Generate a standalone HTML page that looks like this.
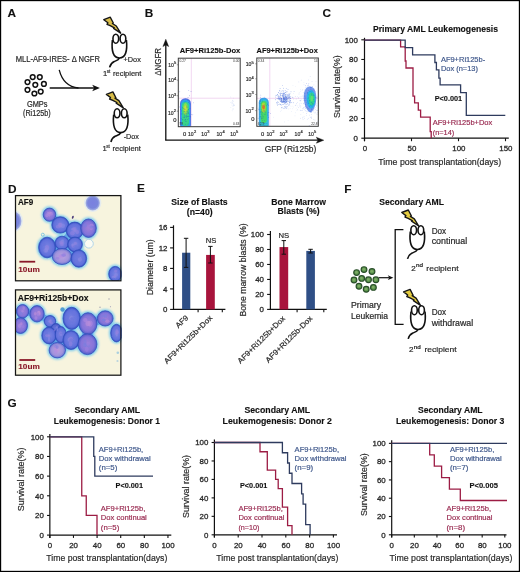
<!DOCTYPE html><html><head><meta charset="utf-8"><style>html,body{margin:0;padding:0;background:#fff}svg{display:block;filter:blur(0.3px)}text{font-family:"Liberation Sans",sans-serif}</style></head><body><svg width="520" height="572" viewBox="0 0 520 572"><rect x="0" y="0" width="520" height="572" fill="#fff"/>
<defs>
<filter id="b06" x="-20%" y="-20%" width="140%" height="140%"><feGaussianBlur stdDeviation="0.75"/></filter>
<filter id="b10" x="-30%" y="-30%" width="160%" height="160%"><feGaussianBlur stdDeviation="1.0"/></filter>
<filter id="b15" x="-30%" y="-30%" width="160%" height="160%"><feGaussianBlur stdDeviation="1.5"/></filter>
<filter id="b04"><feGaussianBlur stdDeviation="0.4"/></filter>
<clipPath id="cb1"><rect x="178.3" y="58.2" width="61.9" height="68.5"/></clipPath>
<clipPath id="cb2"><rect x="256.8" y="58" width="61.5" height="68.3"/></clipPath>
<clipPath id="cd1"><rect x="15.3" y="195" width="106.4" height="86"/></clipPath>
<clipPath id="cd2"><rect x="15.3" y="289.8" width="106.4" height="85.5"/></clipPath>
<radialGradient id="cellB" cx="50%" cy="50%" r="50%"><stop offset="0" stop-color="#7c84e2"/><stop offset="0.78" stop-color="#6070dc"/><stop offset="1" stop-color="#3450c0"/></radialGradient>
<radialGradient id="cellF" cx="50%" cy="50%" r="50%"><stop offset="0" stop-color="#7a80e0"/><stop offset="0.7" stop-color="#7a86dc"/><stop offset="1" stop-color="#a8b4e4"/></radialGradient>
<radialGradient id="cellP" cx="50%" cy="50%" r="50%"><stop offset="0" stop-color="#a080d8"/><stop offset="0.7" stop-color="#8474da"/><stop offset="1" stop-color="#4e5ec8"/></radialGradient>
<radialGradient id="cellL" cx="50%" cy="50%" r="50%"><stop offset="0" stop-color="#bca4e0"/><stop offset="0.7" stop-color="#a092dc"/><stop offset="1" stop-color="#6272d0"/></radialGradient>
<radialGradient id="cellD" cx="50%" cy="50%" r="50%"><stop offset="0" stop-color="#6a78da"/><stop offset="0.75" stop-color="#5566d0"/><stop offset="1" stop-color="#2f48b0"/></radialGradient>
</defs>
<text x="7.6" y="16.9" font-size="11.8" font-weight="bold" fill="#111" stroke="#111" stroke-width="0.12" >A</text>
<text x="15.7" y="61.8" font-size="8.2" fill="#2a2a2a" stroke="#2a2a2a" stroke-width="0.2" textLength="84.2" lengthAdjust="spacingAndGlyphs" >MLL-AF9-IRES- &#916; NGFR</text>
<circle cx="32.7" cy="77.1" r="2.35" fill="#fff" stroke="#111" stroke-width="1.5"/>
<circle cx="39.8" cy="77.1" r="2.35" fill="#fff" stroke="#111" stroke-width="1.5"/>
<circle cx="27.5" cy="82.1" r="2.35" fill="#fff" stroke="#111" stroke-width="1.5"/>
<circle cx="35.3" cy="84.8" r="2.35" fill="#fff" stroke="#111" stroke-width="1.5"/>
<circle cx="43.9" cy="83.9" r="2.35" fill="#fff" stroke="#111" stroke-width="1.5"/>
<circle cx="27.5" cy="89.8" r="2.35" fill="#fff" stroke="#111" stroke-width="1.5"/>
<circle cx="34.4" cy="93.5" r="2.35" fill="#fff" stroke="#111" stroke-width="1.5"/>
<circle cx="40.7" cy="91.6" r="2.35" fill="#fff" stroke="#111" stroke-width="1.5"/>
<text x="26.9" y="106.6" font-size="8.2" fill="#2a2a2a" stroke="#2a2a2a" stroke-width="0.2" textLength="20.6" lengthAdjust="spacingAndGlyphs" >GMPs</text>
<text x="23" y="115.7" font-size="8.2" fill="#2a2a2a" stroke="#2a2a2a" stroke-width="0.2" textLength="27.7" lengthAdjust="spacingAndGlyphs" >(Ri125b)</text>
<line x1="49.70" y1="88.00" x2="95.00" y2="88.00" stroke="#111" stroke-width="1.4"/>
<path d="M99.9,88 L92.2,84.8 L94.2,88 L92.2,91.3 Z" fill="#111"/>
<path d="M59.2,69.8 Q63.5,86.5 78.5,88" fill="none" stroke="#111" stroke-width="1.3"/>
<polygon points="103.80,19.70 110.30,17.20 113.30,23.00 112.40,23.50 116.30,26.00 120.70,33.20 113.60,28.40 114.30,27.80 110.20,25.60 107.00,24.30 107.90,22.80" fill="#d8bc48" stroke="#151515" stroke-width="1.4" stroke-linejoin="round"/>
<g transform="translate(0 0) scale(1.0)" fill="none" stroke="#111" stroke-width="1.6"><path d="M112.4,40 C111.2,51 113.3,58 119.4,58 C125.5,58 127.6,51 126.4,40"/><path d="M119.4,58 C118.6,60.1 116.5,60.6 114.3,61.5 C111.8,62.6 110.3,64.6 109.6,67.4"/><ellipse cx="115.8" cy="38.7" rx="2.85" ry="4.5" fill="#fff"/><ellipse cx="122.95" cy="38.7" rx="2.85" ry="4.5" fill="#fff"/></g>
<polygon points="106.40,94.40 112.90,91.90 115.90,97.70 115.00,98.20 118.90,100.70 123.30,107.90 116.20,103.10 116.90,102.50 112.80,100.30 109.60,99.00 110.50,97.50" fill="#d8bc48" stroke="#151515" stroke-width="1.4" stroke-linejoin="round"/>
<g transform="translate(1.3 74.6) scale(1.0)" fill="none" stroke="#111" stroke-width="1.6"><path d="M112.4,40 C111.2,51 113.3,58 119.4,58 C125.5,58 127.6,51 126.4,40"/><path d="M119.4,58 C118.6,60.1 116.5,60.6 114.3,61.5 C111.8,62.6 110.3,64.6 109.6,67.4"/><ellipse cx="115.8" cy="38.7" rx="2.85" ry="4.5" fill="#fff"/><ellipse cx="122.95" cy="38.7" rx="2.85" ry="4.5" fill="#fff"/></g>
<text x="123.5" y="62" font-size="7.8" fill="#2a2a2a" stroke="#2a2a2a" stroke-width="0.2" textLength="17.3" lengthAdjust="spacingAndGlyphs" >+Dox</text>
<text x="123.7" y="139.2" font-size="7.8" fill="#2a2a2a" stroke="#2a2a2a" stroke-width="0.2" textLength="15.3" lengthAdjust="spacingAndGlyphs" >-Dox</text>
<text x="103" y="75.5" font-size="7.6" fill="#2a2a2a" stroke="#2a2a2a" stroke-width="0.2" >1</text>
<text x="106.8" y="72.8" font-size="5.0" fill="#2a2a2a" stroke="#2a2a2a" stroke-width="0.2" textLength="3.5" lengthAdjust="spacingAndGlyphs" >st</text>
<text x="113" y="75.5" font-size="7.6" fill="#2a2a2a" stroke="#2a2a2a" stroke-width="0.2" textLength="28.3" lengthAdjust="spacingAndGlyphs" >recipient</text>
<text x="102.5" y="150.9" font-size="7.6" fill="#2a2a2a" stroke="#2a2a2a" stroke-width="0.2" >1</text>
<text x="106.3" y="148.2" font-size="5.0" fill="#2a2a2a" stroke="#2a2a2a" stroke-width="0.2" textLength="3.5" lengthAdjust="spacingAndGlyphs" >st</text>
<text x="112.5" y="150.9" font-size="7.6" fill="#2a2a2a" stroke="#2a2a2a" stroke-width="0.2" textLength="28.3" lengthAdjust="spacingAndGlyphs" >recipient</text>
<text x="144.7" y="16.9" font-size="11.8" font-weight="bold" fill="#111" stroke="#111" stroke-width="0.12" >B</text>
<line x1="165.80" y1="45.00" x2="165.80" y2="140.20" stroke="#111" stroke-width="1.3"/>
<path d="M165.8,39.2 L162.9,46.6 L165.8,45 L168.7,46.6 Z" fill="#111" stroke="#111" stroke-width="0.4"/>
<line x1="165.20" y1="140.20" x2="318.00" y2="140.20" stroke="#111" stroke-width="1.3"/>
<path d="M323.8,140.2 L316.3,137.2 L318,140.2 L316.3,143.2 Z" fill="#111" stroke="#111" stroke-width="0.4"/>
<text x="161.3" y="75.7" font-size="8.8" fill="#2a2a2a" stroke="#2a2a2a" stroke-width="0.2" textLength="27.7" lengthAdjust="spacingAndGlyphs" transform="rotate(-90 161.3 75.7)" >&#916;NGFR</text>
<text x="264.7" y="151.8" font-size="8.4" fill="#2a2a2a" stroke="#2a2a2a" stroke-width="0.2" textLength="51.6" lengthAdjust="spacingAndGlyphs" >GFP (Ri125b)</text>
<text x="179.7" y="52.8" font-size="7.2" font-weight="bold" fill="#111" stroke="#111" stroke-width="0.12" textLength="60.6" lengthAdjust="spacingAndGlyphs" >AF9+Ri125b-Dox</text>
<text x="256.5" y="52.8" font-size="7.2" font-weight="bold" fill="#111" stroke="#111" stroke-width="0.12" textLength="61.3" lengthAdjust="spacingAndGlyphs" >AF9+Ri125b+Dox</text>
<line x1="191.30" y1="58.20" x2="191.30" y2="126.70" stroke="#e8bce8" stroke-width="0.6"/>
<line x1="178.30" y1="98.20" x2="240.20" y2="98.20" stroke="#e8bce8" stroke-width="0.6"/>
<g clip-path="url(#cb1)"><g fill="#b0c4f0" fill-opacity="0.5"><circle cx="232.67" cy="106.05" r="0.4"/><circle cx="232.71" cy="102.74" r="0.4"/><circle cx="231.79" cy="103.15" r="0.4"/><circle cx="234.45" cy="105.70" r="0.4"/><circle cx="234.35" cy="105.00" r="0.4"/><circle cx="233.51" cy="104.74" r="0.4"/><circle cx="230.83" cy="107.42" r="0.4"/><circle cx="233.66" cy="106.00" r="0.4"/><circle cx="230.80" cy="97.02" r="0.4"/><circle cx="231.84" cy="102.13" r="0.4"/><circle cx="233.40" cy="103.82" r="0.4"/><circle cx="233.68" cy="101.43" r="0.4"/><circle cx="233.40" cy="105.58" r="0.4"/><circle cx="232.14" cy="110.87" r="0.4"/><circle cx="233.72" cy="108.79" r="0.4"/><circle cx="232.19" cy="101.04" r="0.4"/><circle cx="232.55" cy="103.57" r="0.4"/><circle cx="233.82" cy="104.99" r="0.4"/><circle cx="232.42" cy="100.17" r="0.4"/><circle cx="232.32" cy="108.88" r="0.4"/><circle cx="231.95" cy="104.98" r="0.4"/><circle cx="233.55" cy="98.04" r="0.4"/><circle cx="233.06" cy="109.22" r="0.4"/><circle cx="230.38" cy="102.71" r="0.4"/><circle cx="232.86" cy="100.73" r="0.4"/></g><g filter="url(#b06)"><rect x="180.00" y="98.30" width="11.00" height="32.00" rx="5.20" fill="#3a5ce0" fill-opacity="0.85"/><rect x="180.90" y="99.80" width="9.20" height="30.00" rx="4.50" fill="#2aa8ec" fill-opacity="1"/><rect x="182.00" y="102.00" width="7.00" height="24.00" rx="3.40" fill="#38d488" fill-opacity="1"/><ellipse cx="185.5" cy="109" rx="2.4" ry="6" fill="#88e050"/><ellipse cx="185.5" cy="108.6" rx="1.3" ry="3.2" fill="#c8e038"/></g><g fill="#2036c8" fill-opacity="0.6"><circle cx="186.99" cy="111.50" r="0.4"/><circle cx="181.11" cy="118.62" r="0.4"/><circle cx="187.51" cy="119.57" r="0.4"/><circle cx="189.82" cy="114.90" r="0.4"/><circle cx="185.86" cy="101.61" r="0.4"/><circle cx="187.35" cy="107.11" r="0.4"/><circle cx="184.14" cy="101.88" r="0.4"/><circle cx="182.60" cy="107.75" r="0.4"/><circle cx="189.37" cy="95.75" r="0.4"/><circle cx="181.13" cy="113.91" r="0.4"/><circle cx="189.83" cy="116.63" r="0.4"/><circle cx="179.80" cy="91.85" r="0.4"/><circle cx="186.57" cy="106.11" r="0.4"/><circle cx="182.14" cy="119.82" r="0.4"/><circle cx="188.81" cy="113.26" r="0.4"/><circle cx="186.24" cy="115.47" r="0.4"/><circle cx="190.28" cy="116.95" r="0.4"/><circle cx="187.06" cy="116.38" r="0.4"/><circle cx="180.80" cy="122.25" r="0.4"/><circle cx="188.37" cy="116.24" r="0.4"/><circle cx="179.58" cy="106.93" r="0.4"/><circle cx="188.03" cy="97.51" r="0.4"/><circle cx="184.95" cy="120.16" r="0.4"/><circle cx="181.57" cy="124.88" r="0.4"/><circle cx="187.16" cy="110.80" r="0.4"/><circle cx="186.47" cy="117.20" r="0.4"/><circle cx="185.86" cy="121.17" r="0.4"/><circle cx="183.52" cy="108.68" r="0.4"/><circle cx="188.63" cy="112.21" r="0.4"/><circle cx="182.86" cy="119.57" r="0.4"/><circle cx="189.90" cy="108.44" r="0.4"/><circle cx="181.36" cy="110.92" r="0.4"/><circle cx="185.05" cy="109.62" r="0.4"/><circle cx="189.71" cy="103.78" r="0.4"/><circle cx="189.28" cy="101.85" r="0.4"/><circle cx="183.14" cy="117.05" r="0.4"/><circle cx="188.89" cy="118.87" r="0.4"/><circle cx="186.54" cy="113.14" r="0.4"/><circle cx="185.96" cy="116.60" r="0.4"/><circle cx="184.97" cy="114.22" r="0.4"/><circle cx="187.22" cy="112.01" r="0.4"/><circle cx="187.79" cy="116.53" r="0.4"/><circle cx="191.53" cy="114.60" r="0.4"/><circle cx="184.22" cy="109.02" r="0.4"/><circle cx="185.46" cy="119.39" r="0.4"/><circle cx="184.49" cy="115.09" r="0.4"/><circle cx="191.01" cy="91.48" r="0.4"/><circle cx="182.13" cy="113.95" r="0.4"/><circle cx="186.70" cy="113.91" r="0.4"/><circle cx="184.21" cy="117.24" r="0.4"/><circle cx="186.35" cy="107.82" r="0.4"/><circle cx="192.79" cy="114.84" r="0.4"/><circle cx="183.84" cy="111.20" r="0.4"/><circle cx="184.82" cy="111.50" r="0.4"/><circle cx="177.32" cy="108.10" r="0.4"/><circle cx="188.53" cy="102.65" r="0.4"/><circle cx="185.30" cy="119.63" r="0.4"/><circle cx="188.07" cy="123.93" r="0.4"/><circle cx="180.40" cy="109.17" r="0.4"/><circle cx="184.48" cy="116.99" r="0.4"/><circle cx="188.78" cy="90.54" r="0.4"/><circle cx="188.77" cy="100.42" r="0.4"/><circle cx="187.55" cy="100.06" r="0.4"/><circle cx="186.03" cy="121.56" r="0.4"/><circle cx="185.05" cy="113.53" r="0.4"/><circle cx="187.89" cy="113.13" r="0.4"/><circle cx="185.23" cy="124.27" r="0.4"/><circle cx="188.65" cy="109.65" r="0.4"/><circle cx="193.74" cy="102.83" r="0.4"/><circle cx="188.24" cy="109.87" r="0.4"/></g></g>
<rect x="178.3" y="58.2" width="61.9" height="68.5" fill="none" stroke="#3a3a3a" stroke-width="1"/>
<line x1="269.80" y1="58.00" x2="269.80" y2="126.30" stroke="#e8bce8" stroke-width="0.6"/>
<line x1="256.80" y1="98.30" x2="318.30" y2="98.30" stroke="#e8bce8" stroke-width="0.6"/>
<g clip-path="url(#cb2)"><g fill="#3a66d8" fill-opacity="0.55"><circle cx="284.48" cy="101.18" r="0.45"/><circle cx="284.80" cy="100.93" r="0.45"/><circle cx="278.50" cy="92.76" r="0.45"/><circle cx="286.21" cy="94.84" r="0.45"/><circle cx="280.30" cy="92.91" r="0.45"/><circle cx="288.56" cy="101.34" r="0.45"/><circle cx="289.30" cy="94.94" r="0.45"/><circle cx="284.00" cy="94.17" r="0.45"/><circle cx="286.76" cy="104.54" r="0.45"/><circle cx="280.80" cy="104.43" r="0.45"/><circle cx="287.56" cy="97.82" r="0.45"/><circle cx="276.90" cy="103.85" r="0.45"/><circle cx="283.65" cy="96.21" r="0.45"/><circle cx="285.44" cy="100.06" r="0.45"/><circle cx="289.39" cy="94.62" r="0.45"/><circle cx="288.09" cy="104.15" r="0.45"/><circle cx="289.23" cy="97.81" r="0.45"/><circle cx="281.32" cy="102.37" r="0.45"/><circle cx="284.41" cy="98.97" r="0.45"/><circle cx="289.13" cy="97.50" r="0.45"/><circle cx="275.73" cy="97.03" r="0.45"/><circle cx="277.33" cy="101.61" r="0.45"/><circle cx="285.14" cy="96.18" r="0.45"/><circle cx="283.97" cy="101.66" r="0.45"/><circle cx="284.28" cy="103.54" r="0.45"/><circle cx="283.78" cy="102.45" r="0.45"/><circle cx="289.37" cy="104.62" r="0.45"/><circle cx="281.58" cy="101.84" r="0.45"/><circle cx="277.25" cy="94.38" r="0.45"/><circle cx="276.93" cy="102.56" r="0.45"/><circle cx="279.57" cy="98.45" r="0.45"/><circle cx="283.31" cy="98.39" r="0.45"/><circle cx="281.87" cy="99.39" r="0.45"/><circle cx="290.45" cy="98.67" r="0.45"/><circle cx="285.91" cy="102.30" r="0.45"/><circle cx="283.29" cy="93.71" r="0.45"/><circle cx="282.00" cy="102.58" r="0.45"/><circle cx="278.07" cy="96.23" r="0.45"/><circle cx="287.63" cy="101.51" r="0.45"/><circle cx="284.03" cy="101.56" r="0.45"/><circle cx="284.60" cy="94.02" r="0.45"/><circle cx="278.37" cy="96.07" r="0.45"/><circle cx="287.32" cy="96.35" r="0.45"/><circle cx="280.75" cy="95.57" r="0.45"/><circle cx="278.49" cy="98.05" r="0.45"/><circle cx="279.75" cy="99.88" r="0.45"/><circle cx="275.50" cy="99.75" r="0.45"/><circle cx="281.69" cy="91.12" r="0.45"/><circle cx="286.61" cy="97.45" r="0.45"/><circle cx="275.97" cy="95.17" r="0.45"/><circle cx="285.05" cy="96.76" r="0.45"/><circle cx="286.81" cy="101.34" r="0.45"/><circle cx="286.40" cy="99.74" r="0.45"/><circle cx="288.80" cy="101.01" r="0.45"/><circle cx="285.62" cy="90.58" r="0.45"/><circle cx="287.23" cy="103.48" r="0.45"/><circle cx="282.93" cy="96.72" r="0.45"/><circle cx="290.99" cy="91.82" r="0.45"/><circle cx="285.69" cy="107.71" r="0.45"/><circle cx="280.66" cy="101.12" r="0.45"/><circle cx="290.79" cy="98.04" r="0.45"/><circle cx="286.02" cy="101.93" r="0.45"/><circle cx="280.74" cy="98.16" r="0.45"/><circle cx="285.05" cy="101.64" r="0.45"/><circle cx="283.88" cy="97.76" r="0.45"/><circle cx="280.34" cy="97.14" r="0.45"/><circle cx="287.21" cy="98.89" r="0.45"/><circle cx="280.93" cy="95.30" r="0.45"/><circle cx="293.60" cy="102.83" r="0.45"/><circle cx="286.29" cy="88.65" r="0.45"/><circle cx="286.24" cy="100.33" r="0.45"/><circle cx="290.06" cy="100.13" r="0.45"/><circle cx="283.76" cy="100.49" r="0.45"/><circle cx="277.00" cy="102.43" r="0.45"/><circle cx="285.17" cy="95.83" r="0.45"/><circle cx="288.77" cy="105.38" r="0.45"/><circle cx="278.95" cy="95.97" r="0.45"/><circle cx="285.05" cy="99.20" r="0.45"/><circle cx="282.57" cy="94.80" r="0.45"/><circle cx="291.63" cy="102.44" r="0.45"/><circle cx="279.70" cy="93.39" r="0.45"/><circle cx="290.13" cy="102.26" r="0.45"/><circle cx="290.56" cy="101.58" r="0.45"/><circle cx="280.86" cy="99.49" r="0.45"/><circle cx="276.22" cy="95.66" r="0.45"/><circle cx="283.79" cy="100.49" r="0.45"/><circle cx="281.38" cy="98.03" r="0.45"/><circle cx="285.65" cy="99.93" r="0.45"/><circle cx="286.30" cy="99.29" r="0.45"/><circle cx="282.83" cy="101.50" r="0.45"/><circle cx="284.18" cy="95.36" r="0.45"/><circle cx="281.75" cy="98.50" r="0.45"/><circle cx="283.61" cy="99.10" r="0.45"/><circle cx="284.00" cy="99.17" r="0.45"/><circle cx="283.52" cy="93.72" r="0.45"/><circle cx="285.52" cy="102.50" r="0.45"/><circle cx="285.56" cy="97.78" r="0.45"/><circle cx="285.61" cy="94.83" r="0.45"/><circle cx="277.17" cy="98.73" r="0.45"/><circle cx="280.65" cy="101.31" r="0.45"/><circle cx="280.10" cy="88.51" r="0.45"/><circle cx="280.26" cy="104.50" r="0.45"/><circle cx="282.63" cy="93.30" r="0.45"/><circle cx="281.25" cy="100.48" r="0.45"/><circle cx="285.79" cy="99.17" r="0.45"/><circle cx="289.34" cy="101.18" r="0.45"/><circle cx="283.92" cy="100.77" r="0.45"/><circle cx="289.96" cy="102.19" r="0.45"/><circle cx="287.69" cy="94.39" r="0.45"/><circle cx="283.47" cy="101.27" r="0.45"/><circle cx="282.93" cy="102.56" r="0.45"/><circle cx="286.15" cy="101.95" r="0.45"/><circle cx="283.24" cy="108.18" r="0.45"/><circle cx="288.46" cy="97.68" r="0.45"/><circle cx="284.33" cy="108.36" r="0.45"/><circle cx="282.76" cy="101.82" r="0.45"/><circle cx="287.53" cy="98.53" r="0.45"/><circle cx="279.80" cy="99.21" r="0.45"/><circle cx="285.29" cy="102.79" r="0.45"/><circle cx="286.82" cy="98.59" r="0.45"/><circle cx="287.07" cy="100.55" r="0.45"/><circle cx="284.74" cy="98.71" r="0.45"/><circle cx="283.12" cy="101.11" r="0.45"/><circle cx="280.20" cy="96.11" r="0.45"/><circle cx="284.02" cy="92.94" r="0.45"/><circle cx="282.43" cy="90.87" r="0.45"/><circle cx="281.54" cy="100.66" r="0.45"/><circle cx="286.04" cy="98.29" r="0.45"/><circle cx="283.16" cy="93.12" r="0.45"/><circle cx="290.58" cy="100.46" r="0.45"/><circle cx="287.94" cy="95.15" r="0.45"/><circle cx="283.33" cy="91.59" r="0.45"/><circle cx="286.81" cy="102.05" r="0.45"/><circle cx="277.17" cy="98.30" r="0.45"/><circle cx="286.27" cy="91.80" r="0.45"/><circle cx="277.43" cy="94.45" r="0.45"/><circle cx="281.73" cy="93.17" r="0.45"/><circle cx="284.11" cy="99.45" r="0.45"/><circle cx="286.28" cy="101.17" r="0.45"/><circle cx="289.41" cy="102.92" r="0.45"/><circle cx="279.28" cy="96.58" r="0.45"/><circle cx="280.18" cy="94.41" r="0.45"/><circle cx="283.71" cy="98.52" r="0.45"/><circle cx="285.77" cy="92.47" r="0.45"/><circle cx="279.54" cy="98.41" r="0.45"/><circle cx="283.28" cy="97.32" r="0.45"/><circle cx="283.77" cy="95.61" r="0.45"/><circle cx="286.52" cy="99.85" r="0.45"/><circle cx="283.68" cy="95.95" r="0.45"/><circle cx="283.37" cy="88.16" r="0.45"/><circle cx="280.47" cy="98.64" r="0.45"/><circle cx="278.59" cy="99.26" r="0.45"/><circle cx="284.53" cy="93.27" r="0.45"/><circle cx="283.10" cy="97.31" r="0.45"/><circle cx="285.66" cy="100.83" r="0.45"/><circle cx="283.87" cy="95.27" r="0.45"/><circle cx="283.48" cy="98.25" r="0.45"/><circle cx="286.64" cy="99.62" r="0.45"/><circle cx="281.40" cy="93.35" r="0.45"/><circle cx="282.66" cy="95.69" r="0.45"/><circle cx="280.00" cy="98.06" r="0.45"/><circle cx="282.23" cy="98.90" r="0.45"/><circle cx="285.88" cy="96.93" r="0.45"/><circle cx="292.37" cy="97.28" r="0.45"/><circle cx="287.97" cy="98.96" r="0.45"/><circle cx="288.02" cy="89.47" r="0.45"/><circle cx="281.29" cy="99.44" r="0.45"/><circle cx="286.17" cy="107.38" r="0.45"/><circle cx="285.16" cy="103.36" r="0.45"/><circle cx="286.76" cy="102.10" r="0.45"/><circle cx="285.84" cy="97.91" r="0.45"/><circle cx="285.83" cy="94.40" r="0.45"/><circle cx="288.25" cy="94.63" r="0.45"/><circle cx="284.90" cy="106.56" r="0.45"/><circle cx="283.20" cy="98.57" r="0.45"/><circle cx="288.19" cy="98.60" r="0.45"/><circle cx="281.09" cy="99.48" r="0.45"/><circle cx="286.10" cy="101.20" r="0.45"/><circle cx="281.22" cy="105.16" r="0.45"/><circle cx="290.00" cy="98.57" r="0.45"/><circle cx="284.97" cy="96.87" r="0.45"/><circle cx="289.09" cy="95.82" r="0.45"/><circle cx="286.43" cy="96.68" r="0.45"/><circle cx="281.50" cy="101.23" r="0.45"/><circle cx="288.80" cy="98.46" r="0.45"/><circle cx="281.56" cy="101.58" r="0.45"/><circle cx="283.82" cy="99.68" r="0.45"/><circle cx="289.48" cy="102.80" r="0.45"/><circle cx="282.13" cy="107.18" r="0.45"/><circle cx="284.01" cy="101.49" r="0.45"/><circle cx="281.67" cy="98.33" r="0.45"/><circle cx="277.70" cy="105.29" r="0.45"/><circle cx="288.92" cy="93.88" r="0.45"/><circle cx="278.58" cy="92.34" r="0.45"/><circle cx="288.23" cy="96.75" r="0.45"/><circle cx="283.78" cy="97.31" r="0.45"/><circle cx="283.56" cy="94.36" r="0.45"/><circle cx="284.09" cy="93.04" r="0.45"/><circle cx="283.74" cy="99.67" r="0.45"/><circle cx="285.68" cy="97.62" r="0.45"/><circle cx="280.75" cy="99.11" r="0.45"/><circle cx="282.26" cy="104.45" r="0.45"/><circle cx="286.76" cy="98.06" r="0.45"/><circle cx="282.30" cy="95.83" r="0.45"/><circle cx="280.63" cy="97.16" r="0.45"/><circle cx="285.06" cy="100.46" r="0.45"/><circle cx="286.05" cy="106.47" r="0.45"/><circle cx="281.46" cy="98.55" r="0.45"/><circle cx="294.06" cy="91.41" r="0.45"/><circle cx="282.12" cy="99.14" r="0.45"/><circle cx="284.56" cy="100.05" r="0.45"/><circle cx="283.14" cy="99.89" r="0.45"/><circle cx="284.19" cy="101.43" r="0.45"/><circle cx="277.19" cy="95.14" r="0.45"/><circle cx="283.99" cy="94.58" r="0.45"/><circle cx="280.24" cy="100.89" r="0.45"/><circle cx="281.66" cy="100.91" r="0.45"/><circle cx="286.68" cy="99.66" r="0.45"/><circle cx="285.83" cy="98.10" r="0.45"/><circle cx="278.93" cy="98.39" r="0.45"/><circle cx="285.64" cy="96.49" r="0.45"/><circle cx="283.64" cy="101.35" r="0.45"/><circle cx="280.84" cy="100.93" r="0.45"/><circle cx="290.71" cy="96.39" r="0.45"/><circle cx="284.53" cy="97.93" r="0.45"/><circle cx="289.54" cy="99.70" r="0.45"/><circle cx="287.23" cy="95.88" r="0.45"/><circle cx="283.94" cy="98.46" r="0.45"/><circle cx="277.61" cy="103.98" r="0.45"/><circle cx="287.24" cy="91.85" r="0.45"/><circle cx="286.68" cy="98.00" r="0.45"/><circle cx="285.61" cy="99.89" r="0.45"/><circle cx="278.60" cy="97.69" r="0.45"/><circle cx="289.37" cy="96.32" r="0.45"/><circle cx="280.32" cy="93.33" r="0.45"/><circle cx="279.60" cy="99.77" r="0.45"/><circle cx="290.09" cy="100.13" r="0.45"/><circle cx="284.88" cy="106.99" r="0.45"/><circle cx="282.13" cy="95.94" r="0.45"/><circle cx="285.90" cy="100.58" r="0.45"/><circle cx="280.35" cy="94.05" r="0.45"/><circle cx="285.05" cy="99.44" r="0.45"/><circle cx="279.30" cy="97.73" r="0.45"/><circle cx="282.05" cy="100.25" r="0.45"/><circle cx="283.58" cy="98.17" r="0.45"/><circle cx="282.73" cy="102.50" r="0.45"/><circle cx="289.01" cy="97.11" r="0.45"/><circle cx="287.05" cy="95.62" r="0.45"/><circle cx="284.26" cy="101.35" r="0.45"/><circle cx="289.45" cy="97.05" r="0.45"/><circle cx="283.73" cy="99.25" r="0.45"/><circle cx="278.61" cy="98.56" r="0.45"/><circle cx="281.57" cy="99.91" r="0.45"/><circle cx="279.93" cy="90.99" r="0.45"/><circle cx="284.14" cy="99.49" r="0.45"/><circle cx="282.02" cy="101.88" r="0.45"/><circle cx="283.02" cy="96.20" r="0.45"/><circle cx="285.72" cy="92.54" r="0.45"/><circle cx="281.56" cy="98.42" r="0.45"/><circle cx="287.06" cy="97.88" r="0.45"/><circle cx="285.11" cy="96.01" r="0.45"/><circle cx="285.09" cy="104.82" r="0.45"/><circle cx="281.53" cy="107.49" r="0.45"/><circle cx="281.68" cy="98.57" r="0.45"/><circle cx="284.62" cy="102.39" r="0.45"/><circle cx="279.55" cy="90.52" r="0.45"/><circle cx="286.18" cy="101.52" r="0.45"/><circle cx="286.25" cy="108.50" r="0.45"/><circle cx="284.74" cy="99.46" r="0.45"/><circle cx="287.35" cy="99.90" r="0.45"/><circle cx="289.99" cy="93.79" r="0.45"/><circle cx="282.65" cy="85.41" r="0.45"/><circle cx="286.92" cy="97.08" r="0.45"/><circle cx="287.33" cy="106.69" r="0.45"/><circle cx="283.98" cy="97.53" r="0.45"/><circle cx="282.20" cy="95.32" r="0.45"/><circle cx="281.73" cy="100.93" r="0.45"/><circle cx="284.13" cy="98.75" r="0.45"/><circle cx="283.38" cy="101.97" r="0.45"/><circle cx="285.78" cy="97.96" r="0.45"/><circle cx="286.39" cy="97.92" r="0.45"/><circle cx="279.85" cy="104.03" r="0.45"/><circle cx="285.68" cy="94.86" r="0.45"/><circle cx="287.88" cy="99.81" r="0.45"/><circle cx="278.37" cy="104.62" r="0.45"/><circle cx="285.20" cy="101.89" r="0.45"/><circle cx="284.71" cy="97.93" r="0.45"/><circle cx="278.43" cy="102.19" r="0.45"/><circle cx="284.11" cy="97.41" r="0.45"/><circle cx="285.26" cy="98.80" r="0.45"/><circle cx="286.43" cy="97.09" r="0.45"/><circle cx="283.87" cy="90.37" r="0.45"/><circle cx="282.48" cy="101.07" r="0.45"/><circle cx="288.81" cy="97.12" r="0.45"/><circle cx="283.56" cy="104.52" r="0.45"/><circle cx="282.83" cy="101.29" r="0.45"/><circle cx="290.04" cy="98.65" r="0.45"/><circle cx="288.42" cy="95.80" r="0.45"/><circle cx="284.75" cy="98.21" r="0.45"/><circle cx="284.41" cy="102.79" r="0.45"/></g><g fill="#90aeea" fill-opacity="0.45"><circle cx="317.51" cy="96.68" r="0.35"/><circle cx="290.82" cy="105.98" r="0.35"/><circle cx="286.50" cy="105.98" r="0.35"/><circle cx="301.15" cy="99.78" r="0.35"/><circle cx="300.78" cy="89.61" r="0.35"/><circle cx="302.84" cy="89.64" r="0.35"/><circle cx="289.73" cy="97.55" r="0.35"/><circle cx="292.39" cy="108.87" r="0.35"/><circle cx="296.73" cy="98.82" r="0.35"/><circle cx="300.89" cy="114.65" r="0.35"/><circle cx="296.06" cy="104.93" r="0.35"/><circle cx="307.16" cy="104.14" r="0.35"/><circle cx="284.45" cy="121.92" r="0.35"/><circle cx="315.88" cy="86.12" r="0.35"/><circle cx="295.65" cy="105.34" r="0.35"/><circle cx="304.69" cy="107.35" r="0.35"/><circle cx="293.55" cy="93.57" r="0.35"/><circle cx="296.93" cy="110.27" r="0.35"/><circle cx="286.19" cy="93.78" r="0.35"/><circle cx="295.78" cy="86.50" r="0.35"/><circle cx="293.66" cy="98.51" r="0.35"/><circle cx="300.06" cy="96.39" r="0.35"/><circle cx="288.06" cy="98.85" r="0.35"/><circle cx="295.55" cy="96.68" r="0.35"/><circle cx="296.11" cy="108.00" r="0.35"/><circle cx="306.67" cy="115.64" r="0.35"/><circle cx="288.95" cy="98.64" r="0.35"/><circle cx="273.65" cy="117.19" r="0.35"/><circle cx="289.48" cy="101.73" r="0.35"/><circle cx="300.70" cy="91.13" r="0.35"/><circle cx="300.18" cy="101.79" r="0.35"/><circle cx="279.57" cy="104.34" r="0.35"/><circle cx="306.75" cy="87.06" r="0.35"/><circle cx="303.26" cy="103.67" r="0.35"/><circle cx="300.27" cy="105.53" r="0.35"/><circle cx="307.74" cy="100.21" r="0.35"/><circle cx="303.86" cy="98.72" r="0.35"/><circle cx="302.55" cy="95.49" r="0.35"/><circle cx="295.02" cy="115.85" r="0.35"/><circle cx="300.01" cy="100.73" r="0.35"/><circle cx="285.70" cy="95.68" r="0.35"/><circle cx="297.74" cy="109.52" r="0.35"/><circle cx="299.83" cy="106.19" r="0.35"/><circle cx="295.62" cy="112.82" r="0.35"/><circle cx="292.48" cy="97.60" r="0.35"/><circle cx="303.99" cy="102.51" r="0.35"/><circle cx="293.49" cy="97.39" r="0.35"/><circle cx="293.69" cy="106.99" r="0.35"/><circle cx="299.18" cy="92.32" r="0.35"/><circle cx="299.84" cy="103.43" r="0.35"/><circle cx="287.00" cy="108.18" r="0.35"/><circle cx="293.48" cy="99.32" r="0.35"/><circle cx="303.16" cy="112.57" r="0.35"/><circle cx="289.80" cy="105.51" r="0.35"/><circle cx="288.12" cy="120.51" r="0.35"/><circle cx="291.56" cy="111.56" r="0.35"/><circle cx="290.17" cy="108.49" r="0.35"/><circle cx="315.97" cy="81.67" r="0.35"/><circle cx="292.09" cy="106.00" r="0.35"/><circle cx="295.16" cy="96.65" r="0.35"/><circle cx="315.37" cy="102.64" r="0.35"/><circle cx="281.20" cy="108.83" r="0.35"/><circle cx="280.51" cy="111.21" r="0.35"/><circle cx="290.80" cy="103.16" r="0.35"/><circle cx="307.35" cy="102.94" r="0.35"/><circle cx="283.48" cy="88.43" r="0.35"/><circle cx="306.64" cy="107.92" r="0.35"/><circle cx="288.66" cy="108.88" r="0.35"/><circle cx="300.47" cy="107.18" r="0.35"/><circle cx="275.67" cy="99.58" r="0.35"/><circle cx="304.10" cy="107.87" r="0.35"/><circle cx="303.93" cy="82.34" r="0.35"/><circle cx="297.52" cy="105.94" r="0.35"/><circle cx="318.97" cy="94.37" r="0.35"/><circle cx="293.04" cy="102.29" r="0.35"/><circle cx="303.97" cy="98.45" r="0.35"/><circle cx="306.33" cy="95.70" r="0.35"/><circle cx="298.40" cy="97.78" r="0.35"/><circle cx="297.42" cy="96.47" r="0.35"/><circle cx="281.62" cy="110.74" r="0.35"/><circle cx="298.73" cy="97.53" r="0.35"/><circle cx="297.81" cy="109.92" r="0.35"/><circle cx="287.20" cy="101.12" r="0.35"/><circle cx="300.85" cy="106.21" r="0.35"/><circle cx="292.98" cy="85.14" r="0.35"/><circle cx="307.19" cy="104.63" r="0.35"/><circle cx="296.12" cy="99.77" r="0.35"/><circle cx="298.37" cy="98.60" r="0.35"/><circle cx="286.78" cy="96.08" r="0.35"/><circle cx="290.63" cy="97.10" r="0.35"/></g><g fill="#6a8ae8" fill-opacity="0.45"><circle cx="302.63" cy="110.36" r="0.4"/><circle cx="301.80" cy="110.60" r="0.4"/><circle cx="303.42" cy="107.52" r="0.4"/><circle cx="316.56" cy="106.03" r="0.4"/><circle cx="304.98" cy="104.48" r="0.4"/><circle cx="309.81" cy="86.66" r="0.4"/><circle cx="305.66" cy="105.63" r="0.4"/><circle cx="306.42" cy="104.80" r="0.4"/><circle cx="313.04" cy="111.67" r="0.4"/><circle cx="313.98" cy="109.89" r="0.4"/><circle cx="307.42" cy="103.82" r="0.4"/><circle cx="307.51" cy="100.87" r="0.4"/><circle cx="308.01" cy="86.75" r="0.4"/><circle cx="307.17" cy="103.76" r="0.4"/><circle cx="303.64" cy="103.76" r="0.4"/><circle cx="311.84" cy="102.36" r="0.4"/><circle cx="320.42" cy="77.94" r="0.4"/><circle cx="307.87" cy="85.75" r="0.4"/><circle cx="314.39" cy="130.54" r="0.4"/><circle cx="295.24" cy="105.28" r="0.4"/><circle cx="311.85" cy="100.98" r="0.4"/><circle cx="312.03" cy="81.57" r="0.4"/><circle cx="313.69" cy="107.72" r="0.4"/><circle cx="309.13" cy="98.12" r="0.4"/><circle cx="312.51" cy="99.15" r="0.4"/><circle cx="310.23" cy="98.90" r="0.4"/><circle cx="296.64" cy="103.69" r="0.4"/><circle cx="310.11" cy="111.54" r="0.4"/><circle cx="304.18" cy="103.67" r="0.4"/><circle cx="312.39" cy="105.45" r="0.4"/><circle cx="315.83" cy="123.92" r="0.4"/><circle cx="304.00" cy="84.79" r="0.4"/><circle cx="313.71" cy="119.29" r="0.4"/><circle cx="314.07" cy="112.14" r="0.4"/><circle cx="305.60" cy="96.86" r="0.4"/><circle cx="313.89" cy="94.88" r="0.4"/><circle cx="299.03" cy="94.02" r="0.4"/><circle cx="322.71" cy="123.23" r="0.4"/><circle cx="305.22" cy="96.71" r="0.4"/><circle cx="310.27" cy="96.51" r="0.4"/><circle cx="316.21" cy="103.22" r="0.4"/><circle cx="303.03" cy="117.09" r="0.4"/><circle cx="305.79" cy="106.21" r="0.4"/><circle cx="308.93" cy="100.86" r="0.4"/><circle cx="310.79" cy="97.08" r="0.4"/><circle cx="298.86" cy="81.92" r="0.4"/><circle cx="302.03" cy="96.42" r="0.4"/><circle cx="308.87" cy="104.55" r="0.4"/><circle cx="312.06" cy="105.20" r="0.4"/><circle cx="304.64" cy="96.91" r="0.4"/><circle cx="297.35" cy="102.31" r="0.4"/><circle cx="311.67" cy="109.30" r="0.4"/><circle cx="308.33" cy="102.26" r="0.4"/><circle cx="314.15" cy="104.15" r="0.4"/><circle cx="313.06" cy="109.83" r="0.4"/><circle cx="310.17" cy="117.06" r="0.4"/><circle cx="305.85" cy="100.41" r="0.4"/><circle cx="304.56" cy="96.03" r="0.4"/><circle cx="317.56" cy="121.59" r="0.4"/><circle cx="309.13" cy="109.68" r="0.4"/><circle cx="315.46" cy="112.07" r="0.4"/><circle cx="315.63" cy="91.37" r="0.4"/><circle cx="305.48" cy="108.53" r="0.4"/><circle cx="316.89" cy="105.04" r="0.4"/><circle cx="304.28" cy="100.45" r="0.4"/><circle cx="305.37" cy="95.42" r="0.4"/><circle cx="317.26" cy="97.74" r="0.4"/><circle cx="309.11" cy="125.62" r="0.4"/><circle cx="315.52" cy="107.36" r="0.4"/><circle cx="305.63" cy="108.10" r="0.4"/><circle cx="317.92" cy="110.23" r="0.4"/><circle cx="315.94" cy="104.98" r="0.4"/><circle cx="311.84" cy="101.99" r="0.4"/><circle cx="311.35" cy="117.00" r="0.4"/><circle cx="301.13" cy="103.37" r="0.4"/><circle cx="310.32" cy="98.29" r="0.4"/><circle cx="307.31" cy="111.87" r="0.4"/><circle cx="320.01" cy="110.29" r="0.4"/><circle cx="310.79" cy="88.49" r="0.4"/><circle cx="319.60" cy="104.77" r="0.4"/><circle cx="308.81" cy="92.82" r="0.4"/><circle cx="308.69" cy="93.04" r="0.4"/><circle cx="309.39" cy="108.66" r="0.4"/><circle cx="309.17" cy="106.80" r="0.4"/><circle cx="304.31" cy="118.30" r="0.4"/><circle cx="305.41" cy="85.82" r="0.4"/><circle cx="307.97" cy="96.36" r="0.4"/><circle cx="303.45" cy="100.45" r="0.4"/><circle cx="310.60" cy="92.18" r="0.4"/><circle cx="308.24" cy="118.27" r="0.4"/><circle cx="312.76" cy="102.48" r="0.4"/><circle cx="309.70" cy="102.80" r="0.4"/><circle cx="308.74" cy="111.32" r="0.4"/><circle cx="308.49" cy="79.96" r="0.4"/><circle cx="308.88" cy="95.11" r="0.4"/><circle cx="312.58" cy="97.90" r="0.4"/><circle cx="309.82" cy="125.77" r="0.4"/><circle cx="303.24" cy="92.75" r="0.4"/><circle cx="301.24" cy="80.05" r="0.4"/><circle cx="298.67" cy="107.65" r="0.4"/><circle cx="305.49" cy="85.32" r="0.4"/><circle cx="300.85" cy="110.17" r="0.4"/><circle cx="304.74" cy="100.33" r="0.4"/><circle cx="310.82" cy="117.56" r="0.4"/><circle cx="319.68" cy="114.32" r="0.4"/><circle cx="309.79" cy="105.84" r="0.4"/><circle cx="318.91" cy="118.29" r="0.4"/><circle cx="307.29" cy="108.58" r="0.4"/><circle cx="310.58" cy="104.52" r="0.4"/><circle cx="306.25" cy="90.74" r="0.4"/><circle cx="306.06" cy="88.56" r="0.4"/><circle cx="315.73" cy="109.37" r="0.4"/><circle cx="302.37" cy="117.96" r="0.4"/><circle cx="313.90" cy="84.91" r="0.4"/><circle cx="319.13" cy="112.10" r="0.4"/><circle cx="320.35" cy="91.69" r="0.4"/><circle cx="311.92" cy="108.23" r="0.4"/><circle cx="310.11" cy="105.71" r="0.4"/><circle cx="314.79" cy="89.06" r="0.4"/><circle cx="302.17" cy="90.06" r="0.4"/><circle cx="305.93" cy="97.95" r="0.4"/><circle cx="311.02" cy="106.66" r="0.4"/><circle cx="309.17" cy="97.23" r="0.4"/><circle cx="306.57" cy="113.52" r="0.4"/><circle cx="313.20" cy="105.01" r="0.4"/><circle cx="307.23" cy="119.53" r="0.4"/><circle cx="305.73" cy="110.49" r="0.4"/><circle cx="315.34" cy="101.35" r="0.4"/><circle cx="313.54" cy="92.84" r="0.4"/><circle cx="314.57" cy="106.00" r="0.4"/><circle cx="300.27" cy="110.70" r="0.4"/><circle cx="304.09" cy="116.82" r="0.4"/><circle cx="305.27" cy="102.35" r="0.4"/><circle cx="310.56" cy="100.68" r="0.4"/><circle cx="310.43" cy="98.47" r="0.4"/><circle cx="312.70" cy="104.05" r="0.4"/><circle cx="310.16" cy="76.47" r="0.4"/><circle cx="315.39" cy="104.32" r="0.4"/><circle cx="299.20" cy="104.95" r="0.4"/><circle cx="311.57" cy="114.71" r="0.4"/><circle cx="303.05" cy="119.47" r="0.4"/><circle cx="308.12" cy="127.95" r="0.4"/><circle cx="308.20" cy="110.80" r="0.4"/><circle cx="306.98" cy="92.84" r="0.4"/><circle cx="315.03" cy="113.06" r="0.4"/><circle cx="317.46" cy="112.57" r="0.4"/><circle cx="305.85" cy="87.38" r="0.4"/><circle cx="305.42" cy="97.25" r="0.4"/><circle cx="304.52" cy="109.82" r="0.4"/><circle cx="310.80" cy="101.30" r="0.4"/><circle cx="309.95" cy="102.54" r="0.4"/><circle cx="310.17" cy="111.52" r="0.4"/><circle cx="314.28" cy="97.14" r="0.4"/><circle cx="300.71" cy="118.27" r="0.4"/><circle cx="309.63" cy="115.06" r="0.4"/><circle cx="299.96" cy="100.70" r="0.4"/><circle cx="309.15" cy="89.59" r="0.4"/><circle cx="306.16" cy="111.24" r="0.4"/><circle cx="314.93" cy="119.94" r="0.4"/><circle cx="304.25" cy="89.99" r="0.4"/></g><g filter="url(#b06)"><path d="M310,86.5 C314.5,86.5 316.3,92 316.3,98 C316.3,105 313,112 310.5,112.5 C307.5,112.5 303.7,104 303.7,97 C303.7,91 306,86.5 310,86.5 Z" fill="#4a78e6" fill-opacity="0.75"/><ellipse cx="311" cy="99.2" rx="4.4" ry="9.3" fill="#26b8ea"/><ellipse cx="311.6" cy="99" rx="3.0" ry="6.6" fill="#30d88a"/><ellipse cx="311.8" cy="98.6" rx="1.3" ry="3" fill="#60e070"/></g><g fill="#2a48d0" fill-opacity="0.55"><circle cx="311.77" cy="106.05" r="0.4"/><circle cx="310.66" cy="89.24" r="0.4"/><circle cx="312.66" cy="104.94" r="0.4"/><circle cx="311.88" cy="95.35" r="0.4"/><circle cx="311.03" cy="104.93" r="0.4"/><circle cx="308.10" cy="85.17" r="0.4"/><circle cx="311.12" cy="102.61" r="0.4"/><circle cx="310.05" cy="105.67" r="0.4"/><circle cx="308.01" cy="98.38" r="0.4"/><circle cx="308.96" cy="103.29" r="0.4"/><circle cx="315.43" cy="97.12" r="0.4"/><circle cx="316.99" cy="110.47" r="0.4"/><circle cx="312.69" cy="103.40" r="0.4"/><circle cx="316.02" cy="97.65" r="0.4"/><circle cx="309.62" cy="91.03" r="0.4"/><circle cx="311.61" cy="109.09" r="0.4"/><circle cx="311.81" cy="102.17" r="0.4"/><circle cx="309.32" cy="100.27" r="0.4"/><circle cx="305.15" cy="106.87" r="0.4"/><circle cx="308.61" cy="90.72" r="0.4"/><circle cx="307.45" cy="92.82" r="0.4"/><circle cx="312.91" cy="106.94" r="0.4"/><circle cx="305.38" cy="105.95" r="0.4"/><circle cx="313.02" cy="94.65" r="0.4"/><circle cx="304.95" cy="93.41" r="0.4"/><circle cx="307.85" cy="101.57" r="0.4"/><circle cx="308.78" cy="83.79" r="0.4"/><circle cx="310.79" cy="87.49" r="0.4"/><circle cx="313.08" cy="89.95" r="0.4"/><circle cx="307.64" cy="92.59" r="0.4"/><circle cx="308.16" cy="108.74" r="0.4"/><circle cx="312.90" cy="103.51" r="0.4"/><circle cx="311.09" cy="87.39" r="0.4"/><circle cx="308.23" cy="94.86" r="0.4"/><circle cx="306.68" cy="102.82" r="0.4"/><circle cx="307.48" cy="93.68" r="0.4"/><circle cx="306.45" cy="83.57" r="0.4"/><circle cx="312.02" cy="108.98" r="0.4"/><circle cx="310.59" cy="91.68" r="0.4"/><circle cx="300.80" cy="100.30" r="0.4"/><circle cx="314.14" cy="101.23" r="0.4"/><circle cx="313.15" cy="110.09" r="0.4"/><circle cx="313.83" cy="95.69" r="0.4"/><circle cx="313.58" cy="104.82" r="0.4"/><circle cx="304.77" cy="95.96" r="0.4"/><circle cx="305.16" cy="98.18" r="0.4"/><circle cx="311.97" cy="90.99" r="0.4"/><circle cx="303.01" cy="108.74" r="0.4"/><circle cx="311.28" cy="110.03" r="0.4"/><circle cx="305.50" cy="106.95" r="0.4"/><circle cx="317.05" cy="114.05" r="0.4"/><circle cx="309.29" cy="101.02" r="0.4"/><circle cx="309.48" cy="106.49" r="0.4"/><circle cx="313.53" cy="99.65" r="0.4"/><circle cx="305.38" cy="104.56" r="0.4"/><circle cx="308.40" cy="103.72" r="0.4"/><circle cx="310.89" cy="111.18" r="0.4"/><circle cx="313.87" cy="95.62" r="0.4"/><circle cx="311.19" cy="112.23" r="0.4"/><circle cx="308.17" cy="102.25" r="0.4"/><circle cx="314.05" cy="108.43" r="0.4"/><circle cx="311.76" cy="89.10" r="0.4"/><circle cx="305.71" cy="100.86" r="0.4"/><circle cx="311.32" cy="118.11" r="0.4"/><circle cx="307.07" cy="107.53" r="0.4"/><circle cx="312.62" cy="86.46" r="0.4"/><circle cx="307.22" cy="100.25" r="0.4"/><circle cx="308.32" cy="97.84" r="0.4"/><circle cx="311.60" cy="92.93" r="0.4"/><circle cx="311.59" cy="94.23" r="0.4"/></g><g filter="url(#b06)"><rect x="258.80" y="97.70" width="10.00" height="32.00" rx="4.80" fill="#3aa0e8" fill-opacity="1"/><rect x="259.80" y="99.50" width="8.00" height="30.00" rx="3.80" fill="#30c4d8" fill-opacity="1"/><rect x="260.80" y="101.00" width="6.00" height="22.00" rx="3.00" fill="#44d868" fill-opacity="1"/><ellipse cx="263.6" cy="107.5" rx="2.2" ry="5" fill="#a8d838"/><ellipse cx="263.6" cy="107.3" rx="1.2" ry="2.2" fill="#e07828"/></g><g fill="#2036c8" fill-opacity="0.55"><circle cx="261.97" cy="116.29" r="0.4"/><circle cx="261.89" cy="114.30" r="0.4"/><circle cx="267.98" cy="112.22" r="0.4"/><circle cx="263.09" cy="117.88" r="0.4"/><circle cx="262.48" cy="120.66" r="0.4"/><circle cx="259.91" cy="116.95" r="0.4"/><circle cx="262.07" cy="105.61" r="0.4"/><circle cx="268.46" cy="105.20" r="0.4"/><circle cx="268.42" cy="117.27" r="0.4"/><circle cx="267.57" cy="104.19" r="0.4"/><circle cx="266.86" cy="123.65" r="0.4"/><circle cx="263.17" cy="110.97" r="0.4"/><circle cx="270.38" cy="113.42" r="0.4"/><circle cx="262.32" cy="106.96" r="0.4"/><circle cx="264.75" cy="114.64" r="0.4"/><circle cx="264.00" cy="125.77" r="0.4"/><circle cx="262.58" cy="115.79" r="0.4"/><circle cx="267.59" cy="103.97" r="0.4"/><circle cx="266.41" cy="126.66" r="0.4"/><circle cx="259.71" cy="103.22" r="0.4"/><circle cx="260.59" cy="97.23" r="0.4"/><circle cx="264.77" cy="97.15" r="0.4"/><circle cx="264.90" cy="123.63" r="0.4"/><circle cx="258.98" cy="109.47" r="0.4"/><circle cx="258.13" cy="118.23" r="0.4"/><circle cx="261.44" cy="109.87" r="0.4"/><circle cx="263.65" cy="116.36" r="0.4"/><circle cx="262.53" cy="112.12" r="0.4"/><circle cx="261.97" cy="112.92" r="0.4"/><circle cx="260.22" cy="112.51" r="0.4"/><circle cx="258.09" cy="108.08" r="0.4"/><circle cx="268.86" cy="112.64" r="0.4"/><circle cx="259.97" cy="114.06" r="0.4"/><circle cx="260.78" cy="98.79" r="0.4"/><circle cx="261.44" cy="117.89" r="0.4"/><circle cx="264.57" cy="111.22" r="0.4"/><circle cx="260.91" cy="103.37" r="0.4"/><circle cx="267.28" cy="113.96" r="0.4"/><circle cx="260.84" cy="95.11" r="0.4"/><circle cx="259.66" cy="131.80" r="0.4"/><circle cx="260.28" cy="111.39" r="0.4"/><circle cx="264.09" cy="110.74" r="0.4"/><circle cx="262.72" cy="101.01" r="0.4"/><circle cx="260.56" cy="125.51" r="0.4"/><circle cx="261.38" cy="118.76" r="0.4"/><circle cx="258.76" cy="109.81" r="0.4"/><circle cx="264.23" cy="120.29" r="0.4"/><circle cx="260.36" cy="116.76" r="0.4"/><circle cx="264.58" cy="106.10" r="0.4"/><circle cx="264.84" cy="104.82" r="0.4"/><circle cx="261.27" cy="111.85" r="0.4"/><circle cx="255.90" cy="111.12" r="0.4"/><circle cx="260.70" cy="100.30" r="0.4"/><circle cx="262.31" cy="118.10" r="0.4"/><circle cx="262.37" cy="122.13" r="0.4"/><circle cx="260.25" cy="101.50" r="0.4"/><circle cx="267.84" cy="115.19" r="0.4"/><circle cx="266.15" cy="105.39" r="0.4"/><circle cx="265.75" cy="114.08" r="0.4"/><circle cx="265.32" cy="112.20" r="0.4"/></g></g>
<rect x="256.8" y="58" width="61.5" height="68.3" fill="none" stroke="#3a3a3a" stroke-width="1"/>
<text x="179.4" y="61.8" font-size="3.3" fill="#333" >0.27</text>
<text x="239.4" y="61.8" font-size="3.3" fill="#333" text-anchor="end" >0.00</text>
<text x="179.4" y="125" font-size="3.3" fill="#333" >99</text>
<text x="239.4" y="125" font-size="3.3" fill="#333" text-anchor="end" >0.63</text>
<text x="257.8" y="61.6" font-size="3.3" fill="#333" >0.34</text>
<text x="317.6" y="61.6" font-size="3.3" fill="#333" text-anchor="end" >14</text>
<text x="257.8" y="125" font-size="3.3" fill="#333" >62.9</text>
<text x="317.6" y="125" font-size="3.3" fill="#333" text-anchor="end" >22.8</text>
<text x="168.2" y="66.9" font-size="6.0" fill="#2a2a2a" stroke="#2a2a2a" stroke-width="0.2" textLength="5.7" lengthAdjust="spacingAndGlyphs" >10</text>
<text x="174.1" y="64.4" font-size="4.0" fill="#2a2a2a" stroke="#2a2a2a" stroke-width="0.2" >5</text>
<text x="168.2" y="82.3" font-size="6.0" fill="#2a2a2a" stroke="#2a2a2a" stroke-width="0.2" textLength="5.7" lengthAdjust="spacingAndGlyphs" >10</text>
<text x="174.1" y="79.8" font-size="4.0" fill="#2a2a2a" stroke="#2a2a2a" stroke-width="0.2" >4</text>
<text x="168.2" y="98" font-size="6.0" fill="#2a2a2a" stroke="#2a2a2a" stroke-width="0.2" textLength="5.7" lengthAdjust="spacingAndGlyphs" >10</text>
<text x="174.1" y="95.5" font-size="4.0" fill="#2a2a2a" stroke="#2a2a2a" stroke-width="0.2" >3</text>
<text x="167.9" y="114.6" font-size="6.0" fill="#2a2a2a" stroke="#2a2a2a" stroke-width="0.2" textLength="5.7" lengthAdjust="spacingAndGlyphs" >10</text>
<text x="173.8" y="112.1" font-size="4.0" fill="#2a2a2a" stroke="#2a2a2a" stroke-width="0.2" >2</text>
<text x="173.3" y="121.8" font-size="5.8" fill="#2a2a2a" stroke="#2a2a2a" stroke-width="0.2" >0</text>
<text x="245.7" y="66" font-size="6.0" fill="#2a2a2a" stroke="#2a2a2a" stroke-width="0.2" textLength="5.7" lengthAdjust="spacingAndGlyphs" >10</text>
<text x="251.6" y="63.5" font-size="4.0" fill="#2a2a2a" stroke="#2a2a2a" stroke-width="0.2" >5</text>
<text x="245.7" y="81" font-size="6.0" fill="#2a2a2a" stroke="#2a2a2a" stroke-width="0.2" textLength="5.7" lengthAdjust="spacingAndGlyphs" >10</text>
<text x="251.6" y="78.5" font-size="4.0" fill="#2a2a2a" stroke="#2a2a2a" stroke-width="0.2" >4</text>
<text x="245.7" y="96.7" font-size="6.0" fill="#2a2a2a" stroke="#2a2a2a" stroke-width="0.2" textLength="5.7" lengthAdjust="spacingAndGlyphs" >10</text>
<text x="251.6" y="94.2" font-size="4.0" fill="#2a2a2a" stroke="#2a2a2a" stroke-width="0.2" >3</text>
<text x="245.5" y="112.8" font-size="6.0" fill="#2a2a2a" stroke="#2a2a2a" stroke-width="0.2" textLength="5.7" lengthAdjust="spacingAndGlyphs" >10</text>
<text x="251.4" y="110.3" font-size="4.0" fill="#2a2a2a" stroke="#2a2a2a" stroke-width="0.2" >2</text>
<text x="251.3" y="121.2" font-size="5.8" fill="#2a2a2a" stroke="#2a2a2a" stroke-width="0.2" >0</text>
<text x="188" y="135.7" font-size="6.0" fill="#2a2a2a" stroke="#2a2a2a" stroke-width="0.2" textLength="5.7" lengthAdjust="spacingAndGlyphs" >10</text>
<text x="193.9" y="133.2" font-size="4.0" fill="#2a2a2a" stroke="#2a2a2a" stroke-width="0.2" >2</text>
<text x="201.3" y="135.7" font-size="6.0" fill="#2a2a2a" stroke="#2a2a2a" stroke-width="0.2" textLength="5.7" lengthAdjust="spacingAndGlyphs" >10</text>
<text x="207.2" y="133.2" font-size="4.0" fill="#2a2a2a" stroke="#2a2a2a" stroke-width="0.2" >3</text>
<text x="216.5" y="135.7" font-size="6.0" fill="#2a2a2a" stroke="#2a2a2a" stroke-width="0.2" textLength="5.7" lengthAdjust="spacingAndGlyphs" >10</text>
<text x="222.4" y="133.2" font-size="4.0" fill="#2a2a2a" stroke="#2a2a2a" stroke-width="0.2" >4</text>
<text x="230.2" y="135.7" font-size="6.0" fill="#2a2a2a" stroke="#2a2a2a" stroke-width="0.2" textLength="5.7" lengthAdjust="spacingAndGlyphs" >10</text>
<text x="236.1" y="133.2" font-size="4.0" fill="#2a2a2a" stroke="#2a2a2a" stroke-width="0.2" >5</text>
<text x="182.9" y="135.7" font-size="5.8" fill="#2a2a2a" stroke="#2a2a2a" stroke-width="0.2" >0</text>
<text x="266.4" y="135.5" font-size="6.0" fill="#2a2a2a" stroke="#2a2a2a" stroke-width="0.2" textLength="5.7" lengthAdjust="spacingAndGlyphs" >10</text>
<text x="272.3" y="133.0" font-size="4.0" fill="#2a2a2a" stroke="#2a2a2a" stroke-width="0.2" >2</text>
<text x="279.4" y="135.5" font-size="6.0" fill="#2a2a2a" stroke="#2a2a2a" stroke-width="0.2" textLength="5.7" lengthAdjust="spacingAndGlyphs" >10</text>
<text x="285.3" y="133.0" font-size="4.0" fill="#2a2a2a" stroke="#2a2a2a" stroke-width="0.2" >3</text>
<text x="294.6" y="135.5" font-size="6.0" fill="#2a2a2a" stroke="#2a2a2a" stroke-width="0.2" textLength="5.7" lengthAdjust="spacingAndGlyphs" >10</text>
<text x="300.5" y="133.0" font-size="4.0" fill="#2a2a2a" stroke="#2a2a2a" stroke-width="0.2" >4</text>
<text x="308.2" y="135.5" font-size="6.0" fill="#2a2a2a" stroke="#2a2a2a" stroke-width="0.2" textLength="5.7" lengthAdjust="spacingAndGlyphs" >10</text>
<text x="314.1" y="133.0" font-size="4.0" fill="#2a2a2a" stroke="#2a2a2a" stroke-width="0.2" >5</text>
<text x="260.9" y="135.5" font-size="5.8" fill="#2a2a2a" stroke="#2a2a2a" stroke-width="0.2" >0</text>
<line x1="176.80" y1="64.80" x2="178.30" y2="64.80" stroke="#555" stroke-width="0.6"/>
<line x1="176.80" y1="80.20" x2="178.30" y2="80.20" stroke="#555" stroke-width="0.6"/>
<line x1="176.80" y1="95.70" x2="178.30" y2="95.70" stroke="#555" stroke-width="0.6"/>
<line x1="176.80" y1="111.20" x2="178.30" y2="111.20" stroke="#555" stroke-width="0.6"/>
<line x1="255.30" y1="63.80" x2="256.80" y2="63.80" stroke="#555" stroke-width="0.6"/>
<line x1="255.30" y1="78.80" x2="256.80" y2="78.80" stroke="#555" stroke-width="0.6"/>
<line x1="255.30" y1="94.50" x2="256.80" y2="94.50" stroke="#555" stroke-width="0.6"/>
<line x1="255.30" y1="110.60" x2="256.80" y2="110.60" stroke="#555" stroke-width="0.6"/>
<text x="322.5" y="17.4" font-size="11.8" font-weight="bold" fill="#111" stroke="#111" stroke-width="0.12" >C</text>
<text x="372.9" y="32.1" font-size="8.8" font-weight="bold" fill="#111" stroke="#111" stroke-width="0.12" textLength="125.1" lengthAdjust="spacingAndGlyphs" >Primary AML Leukemogenesis</text>
<line x1="364.50" y1="37.80" x2="364.50" y2="141.20" stroke="#111" stroke-width="1.2"/>
<line x1="364.50" y1="138.20" x2="508.80" y2="138.20" stroke="#111" stroke-width="1.2"/>
<line x1="361.30" y1="138.20" x2="364.50" y2="138.20" stroke="#111" stroke-width="1.1"/>
<text x="357.8" y="141.1" font-size="7.9" fill="#2a2a2a" stroke="#2a2a2a" stroke-width="0.3" text-anchor="end" >0</text>
<line x1="361.30" y1="118.52" x2="364.50" y2="118.52" stroke="#111" stroke-width="1.1"/>
<text x="357.8" y="121.42" font-size="7.9" fill="#2a2a2a" stroke="#2a2a2a" stroke-width="0.3" text-anchor="end" >20</text>
<line x1="361.30" y1="98.84" x2="364.50" y2="98.84" stroke="#111" stroke-width="1.1"/>
<text x="357.8" y="101.74" font-size="7.9" fill="#2a2a2a" stroke="#2a2a2a" stroke-width="0.3" text-anchor="end" >40</text>
<line x1="361.30" y1="79.16" x2="364.50" y2="79.16" stroke="#111" stroke-width="1.1"/>
<text x="357.8" y="82.06" font-size="7.9" fill="#2a2a2a" stroke="#2a2a2a" stroke-width="0.3" text-anchor="end" >60</text>
<line x1="361.30" y1="59.48" x2="364.50" y2="59.48" stroke="#111" stroke-width="1.1"/>
<text x="357.8" y="62.38" font-size="7.9" fill="#2a2a2a" stroke="#2a2a2a" stroke-width="0.3" text-anchor="end" >80</text>
<line x1="361.30" y1="39.80" x2="364.50" y2="39.80" stroke="#111" stroke-width="1.1"/>
<text x="357.8" y="42.7" font-size="7.9" fill="#2a2a2a" stroke="#2a2a2a" stroke-width="0.3" text-anchor="end" >100</text>
<line x1="364.50" y1="138.20" x2="364.50" y2="141.20" stroke="#111" stroke-width="1.1"/>
<text x="364.9" y="151.1" font-size="7.9" fill="#2a2a2a" stroke="#2a2a2a" stroke-width="0.3" text-anchor="middle" >0</text>
<line x1="411.50" y1="138.20" x2="411.50" y2="141.20" stroke="#111" stroke-width="1.1"/>
<text x="411.9" y="151.1" font-size="7.9" fill="#2a2a2a" stroke="#2a2a2a" stroke-width="0.3" text-anchor="middle" >50</text>
<line x1="458.50" y1="138.20" x2="458.50" y2="141.20" stroke="#111" stroke-width="1.1"/>
<text x="458.9" y="151.1" font-size="7.9" fill="#2a2a2a" stroke="#2a2a2a" stroke-width="0.3" text-anchor="middle" >100</text>
<line x1="505.50" y1="138.20" x2="505.50" y2="141.20" stroke="#111" stroke-width="1.1"/>
<text x="505.9" y="151.1" font-size="7.9" fill="#2a2a2a" stroke="#2a2a2a" stroke-width="0.3" text-anchor="middle" >150</text>
<text x="339.6" y="118" font-size="9.6" fill="#2a2a2a" stroke="#2a2a2a" stroke-width="0.2" textLength="62.8" lengthAdjust="spacingAndGlyphs" transform="rotate(-90 339.6 118)" >Survival rate(%)</text>
<text x="378.3" y="165.2" font-size="9.4" fill="#2a2a2a" stroke="#2a2a2a" stroke-width="0.2" textLength="122.8" lengthAdjust="spacingAndGlyphs" >Time post transplantation(days)</text>
<polyline points="364.50,40.20 400.60,40.20 400.60,46.90 405.20,46.90 405.20,61.00 406.00,61.00 406.00,68.00 413.00,68.00 413.00,96.10 414.60,96.10 414.60,102.80 418.30,102.80 418.30,110.20 420.60,110.20 420.60,117.20 430.20,117.20 430.20,131.60 431.20,131.60 431.20,138.20" fill="none" stroke="#9c1c44" stroke-width="1.3" stroke-linejoin="miter" stroke-linecap="butt"/>
<polyline points="364.50,40.20 405.20,40.20 405.20,47.60 412.60,47.60 412.60,54.80 434.90,54.80 434.90,62.50 436.40,62.50 436.40,69.90 438.90,69.90 438.90,78.10 440.10,78.10 440.10,84.80 460.60,84.80 460.60,92.70 466.30,92.70 466.30,115.30 505.30,115.30" fill="none" stroke="#2e3b5e" stroke-width="1.3" stroke-linejoin="miter" stroke-linecap="butt"/>
<text x="440.9" y="61.7" font-size="7.8" fill="#40598c" stroke="#40598c" stroke-width="0.2" textLength="44.3" lengthAdjust="spacingAndGlyphs" >AF9+Ri125b-</text>
<text x="440.9" y="70.9" font-size="7.8" fill="#40598c" stroke="#40598c" stroke-width="0.2" textLength="37.1" lengthAdjust="spacingAndGlyphs" >Dox (n=13)</text>
<text x="434.7" y="101.0" font-size="8.1" font-weight="bold" fill="#111" stroke="#111" stroke-width="0.12" textLength="27.4" lengthAdjust="spacingAndGlyphs" >P&lt;0.001</text>
<text x="432.7" y="125.1" font-size="7.8" fill="#9a2c52" stroke="#9a2c52" stroke-width="0.2" textLength="59.6" lengthAdjust="spacingAndGlyphs" >AF9+Ri125b+Dox</text>
<text x="432.7" y="134.5" font-size="7.8" fill="#9a2c52" stroke="#9a2c52" stroke-width="0.2" textLength="21.5" lengthAdjust="spacingAndGlyphs" >(n=14)</text>
<text x="8" y="192.8" font-size="11.8" font-weight="bold" fill="#111" stroke="#111" stroke-width="0.12" >D</text>
<rect x="15.5" y="195.6" width="105.4" height="85.2" fill="#f7f4de"/>
<g clip-path="url(#cd1)"><g filter="url(#b10)" fill="#78caf0" fill-opacity="0.9"><ellipse cx="49.5" cy="214.7" rx="8.10" ry="8.40"/><ellipse cx="60.3" cy="224.9" rx="10.30" ry="10.00"/><ellipse cx="74.7" cy="230.6" rx="10.30" ry="10.30"/><ellipse cx="88.5" cy="228.2" rx="9.60" ry="11.00"/><ellipse cx="47.1" cy="247.5" rx="10.30" ry="12.10"/><ellipse cx="62" cy="243" rx="8.80" ry="8.60"/><ellipse cx="75" cy="244.4" rx="9.20" ry="9.20"/><ellipse cx="62" cy="256.5" rx="11.50" ry="9.80"/><ellipse cx="78.8" cy="258.5" rx="9.60" ry="10.50"/><ellipse cx="115.2" cy="274" rx="8.30" ry="9.40"/></g><g filter="url(#b06)" stroke="#5c9ee6" stroke-opacity="0.9" stroke-linecap="round"><line x1="49.5" y1="214.7" x2="60.3" y2="224.9" stroke-width="7.09"/><line x1="60.3" y1="224.9" x2="74.7" y2="230.6" stroke-width="9.19"/><line x1="74.7" y1="230.6" x2="88.5" y2="228.2" stroke-width="9.35"/><line x1="74.7" y1="230.6" x2="62" y2="243" stroke-width="7.59"/><line x1="74.7" y1="230.6" x2="75" y2="244.4" stroke-width="8.14"/><line x1="47.1" y1="247.5" x2="62" y2="243" stroke-width="7.59"/><line x1="47.1" y1="247.5" x2="62" y2="256.5" stroke-width="9.74"/><line x1="62" y1="243" x2="75" y2="244.4" stroke-width="7.59"/><line x1="62" y1="243" x2="62" y2="256.5" stroke-width="7.59"/><line x1="75" y1="244.4" x2="62" y2="256.5" stroke-width="8.14"/><line x1="75" y1="244.4" x2="78.8" y2="258.5" stroke-width="8.14"/><line x1="62" y1="256.5" x2="78.8" y2="258.5" stroke-width="9.08"/></g><g filter="url(#b04)"><ellipse cx="13.5" cy="221" rx="9.5" ry="11.0" fill="#dfe8f4" fill-opacity="0.8"/><ellipse cx="13.5" cy="221" rx="8" ry="9.5" fill="url(#cellF)"/><ellipse cx="92.7" cy="203" rx="8.7" ry="8.9" fill="#dfe8f4" fill-opacity="0.8"/><ellipse cx="92.7" cy="203" rx="7.2" ry="7.4" fill="url(#cellF)"/><ellipse cx="49.5" cy="214.7" rx="6.3" ry="6.6" fill="url(#cellP)" stroke="#2f4cbc" stroke-width="0.9" stroke-opacity="0.85"/><ellipse cx="60.3" cy="224.9" rx="8.5" ry="8.2" fill="url(#cellB)" stroke="#2f4cbc" stroke-width="0.9" stroke-opacity="0.85"/><ellipse cx="74.7" cy="230.6" rx="8.5" ry="8.5" fill="url(#cellB)" stroke="#2f4cbc" stroke-width="0.9" stroke-opacity="0.85"/><ellipse cx="88.5" cy="228.2" rx="7.8" ry="9.2" fill="url(#cellP)" stroke="#2f4cbc" stroke-width="0.9" stroke-opacity="0.85"/><ellipse cx="47.1" cy="247.5" rx="8.5" ry="10.3" fill="url(#cellB)" stroke="#2f4cbc" stroke-width="0.9" stroke-opacity="0.85"/><ellipse cx="62" cy="243" rx="7" ry="6.8" fill="url(#cellB)" stroke="#2f4cbc" stroke-width="0.9" stroke-opacity="0.85"/><ellipse cx="75" cy="244.4" rx="7.4" ry="7.4" fill="url(#cellB)" stroke="#2f4cbc" stroke-width="0.9" stroke-opacity="0.85"/><ellipse cx="62" cy="256.5" rx="9.7" ry="8" fill="url(#cellL)" stroke="#2f4cbc" stroke-width="0.9" stroke-opacity="0.85"/><ellipse cx="78.8" cy="258.5" rx="7.8" ry="8.7" fill="url(#cellB)" stroke="#2f4cbc" stroke-width="0.9" stroke-opacity="0.85"/><ellipse cx="115.2" cy="274" rx="6.5" ry="7.6" fill="url(#cellB)" stroke="#2f4cbc" stroke-width="0.9" stroke-opacity="0.85"/><ellipse cx="51.36" cy="213.65" rx="1.69" ry="1.89" fill="#b08ae0" fill-opacity="0.55"/><ellipse cx="47.87" cy="213.25" rx="1.15" ry="1.65" fill="#b08ae0" fill-opacity="0.55"/><ellipse cx="46.95" cy="215.42" rx="1.57" ry="1.85" fill="#b08ae0" fill-opacity="0.55"/><ellipse cx="49.19" cy="214.87" rx="1.29" ry="1.80" fill="#b08ae0" fill-opacity="0.55"/><ellipse cx="49.94" cy="212.71" rx="1.76" ry="1.17" fill="#c090d8" fill-opacity="0.55"/><ellipse cx="60.39" cy="224.92" rx="2.09" ry="2.38" fill="#9484e0" fill-opacity="0.55"/><ellipse cx="62.80" cy="225.76" rx="2.33" ry="2.18" fill="#8a8ae4" fill-opacity="0.55"/><ellipse cx="57.44" cy="226.39" rx="1.84" ry="1.25" fill="#6a74dc" fill-opacity="0.55"/><ellipse cx="58.20" cy="226.64" rx="2.53" ry="1.81" fill="#9484e0" fill-opacity="0.55"/><ellipse cx="59.89" cy="225.14" rx="1.88" ry="2.33" fill="#9484e0" fill-opacity="0.55"/><ellipse cx="73.31" cy="229.17" rx="2.15" ry="1.43" fill="#8a8ae4" fill-opacity="0.55"/><ellipse cx="75.10" cy="230.51" rx="1.44" ry="1.30" fill="#8a8ae4" fill-opacity="0.55"/><ellipse cx="74.48" cy="229.49" rx="2.22" ry="2.45" fill="#9484e0" fill-opacity="0.55"/><ellipse cx="72.38" cy="233.21" rx="2.37" ry="2.21" fill="#9484e0" fill-opacity="0.55"/><ellipse cx="77.24" cy="232.08" rx="1.91" ry="2.13" fill="#9484e0" fill-opacity="0.55"/><ellipse cx="91.52" cy="225.25" rx="2.01" ry="1.40" fill="#b08ae0" fill-opacity="0.55"/><ellipse cx="91.28" cy="228.50" rx="1.63" ry="1.81" fill="#b08ae0" fill-opacity="0.55"/><ellipse cx="85.18" cy="225.35" rx="1.88" ry="1.82" fill="#7a7ee0" fill-opacity="0.55"/><ellipse cx="91.46" cy="227.03" rx="1.96" ry="1.58" fill="#7a7ee0" fill-opacity="0.55"/><ellipse cx="88.96" cy="226.44" rx="1.91" ry="1.96" fill="#9a80e0" fill-opacity="0.55"/><ellipse cx="44.33" cy="250.43" rx="2.28" ry="2.42" fill="#6a74dc" fill-opacity="0.55"/><ellipse cx="47.03" cy="247.83" rx="2.17" ry="2.82" fill="#9484e0" fill-opacity="0.55"/><ellipse cx="45.70" cy="250.49" rx="2.33" ry="2.47" fill="#8a8ae4" fill-opacity="0.55"/><ellipse cx="46.38" cy="249.77" rx="1.76" ry="2.60" fill="#8a8ae4" fill-opacity="0.55"/><ellipse cx="43.74" cy="244.47" rx="1.64" ry="1.55" fill="#6a74dc" fill-opacity="0.55"/><ellipse cx="61.87" cy="244.57" rx="2.02" ry="1.80" fill="#9484e0" fill-opacity="0.55"/><ellipse cx="62.23" cy="241.94" rx="1.90" ry="1.90" fill="#8a8ae4" fill-opacity="0.55"/><ellipse cx="61.05" cy="242.55" rx="1.77" ry="1.95" fill="#9484e0" fill-opacity="0.55"/><ellipse cx="61.81" cy="243.26" rx="1.56" ry="1.41" fill="#9484e0" fill-opacity="0.55"/><ellipse cx="62.65" cy="240.37" rx="1.37" ry="1.08" fill="#8a8ae4" fill-opacity="0.55"/><ellipse cx="72.72" cy="246.16" rx="1.76" ry="1.12" fill="#6a74dc" fill-opacity="0.55"/><ellipse cx="73.35" cy="245.86" rx="2.01" ry="1.97" fill="#9484e0" fill-opacity="0.55"/><ellipse cx="75.25" cy="246.75" rx="2.09" ry="1.69" fill="#6a74dc" fill-opacity="0.55"/><ellipse cx="72.63" cy="244.75" rx="1.35" ry="1.21" fill="#8a8ae4" fill-opacity="0.55"/><ellipse cx="75.41" cy="243.29" rx="1.74" ry="1.56" fill="#9484e0" fill-opacity="0.55"/><ellipse cx="61.21" cy="256.43" rx="2.80" ry="1.79" fill="#b08ae0" fill-opacity="0.55"/><ellipse cx="63.32" cy="255.28" rx="2.60" ry="1.39" fill="#7a7ee0" fill-opacity="0.55"/><ellipse cx="60.49" cy="255.63" rx="1.59" ry="1.45" fill="#b08ae0" fill-opacity="0.55"/><ellipse cx="64.08" cy="254.69" rx="1.84" ry="2.14" fill="#9a80e0" fill-opacity="0.55"/><ellipse cx="57.49" cy="258.37" rx="1.82" ry="1.25" fill="#9a80e0" fill-opacity="0.55"/><ellipse cx="79.04" cy="259.32" rx="1.20" ry="1.35" fill="#8a8ae4" fill-opacity="0.55"/><ellipse cx="76.73" cy="260.97" rx="2.28" ry="2.49" fill="#6a74dc" fill-opacity="0.55"/><ellipse cx="81.16" cy="259.62" rx="2.25" ry="2.23" fill="#6a74dc" fill-opacity="0.55"/><ellipse cx="79.95" cy="259.32" rx="1.92" ry="2.55" fill="#8a8ae4" fill-opacity="0.55"/><ellipse cx="77.98" cy="256.85" rx="2.16" ry="1.79" fill="#6a74dc" fill-opacity="0.55"/><ellipse cx="115.44" cy="277.00" rx="1.01" ry="1.43" fill="#8a8ae4" fill-opacity="0.55"/><ellipse cx="113.27" cy="277.02" rx="1.79" ry="1.19" fill="#8a8ae4" fill-opacity="0.55"/><ellipse cx="115.77" cy="271.11" rx="1.72" ry="1.69" fill="#9484e0" fill-opacity="0.55"/><ellipse cx="116.11" cy="274.79" rx="1.89" ry="1.91" fill="#8a8ae4" fill-opacity="0.55"/><ellipse cx="114.56" cy="276.36" rx="1.08" ry="1.51" fill="#9484e0" fill-opacity="0.55"/><circle cx="88.9" cy="243.7" r="4.4" fill="#fbfbf2" stroke="#a8d0e8" stroke-width="0.9"/><ellipse cx="72.8" cy="217.2" rx="0.9" ry="1.6" fill="#4a3a7a" transform="rotate(20 72.8 217.2)"/><circle cx="42.8" cy="234.7" r="1.5" fill="none" stroke="#58b8e0" stroke-width="0.7"/></g></g>
<rect x="15.5" y="195.6" width="105.4" height="85.2" fill="none" stroke="#151515" stroke-width="1.25"/>
<text x="18" y="205.2" font-size="9" font-weight="bold" fill="#111" stroke="#111" stroke-width="0.12" textLength="15.3" lengthAdjust="spacingAndGlyphs" >AF9</text>
<line x1="19.40" y1="261.70" x2="35.20" y2="261.70" stroke="#8a1828" stroke-width="1.8"/>
<text x="18.2" y="271.5" font-size="7.6" font-weight="bold" fill="#8a1828" stroke="#8a1828" stroke-width="0.12" textLength="21.6" lengthAdjust="spacingAndGlyphs" >10um</text>
<rect x="15.5" y="289.9" width="105.4" height="85.3" fill="#f7f4de"/>
<g clip-path="url(#cd2)"><g filter="url(#b10)" fill="#78caf0" fill-opacity="0.9"><ellipse cx="22.6" cy="311.3" rx="8.00" ry="8.60"/><ellipse cx="20.5" cy="325.6" rx="8.80" ry="9.70"/><ellipse cx="37" cy="313.8" rx="9.00" ry="10.00"/><ellipse cx="50" cy="321.3" rx="7.60" ry="7.60"/><ellipse cx="56" cy="328.5" rx="6.80" ry="6.80"/><ellipse cx="49" cy="335.5" rx="9.00" ry="10.20"/><ellipse cx="60.7" cy="334.6" rx="7.40" ry="10.00"/><ellipse cx="71.7" cy="318.4" rx="10.50" ry="12.90"/><ellipse cx="88" cy="323.6" rx="10.80" ry="12.70"/><ellipse cx="71.1" cy="340" rx="10.00" ry="11.30"/><ellipse cx="87.4" cy="344.2" rx="11.30" ry="12.20"/><ellipse cx="57.3" cy="350.2" rx="10.00" ry="9.50"/><ellipse cx="105.2" cy="318.4" rx="9.70" ry="9.40"/><ellipse cx="116.5" cy="333.1" rx="7.60" ry="10.60"/></g><g filter="url(#b06)" stroke="#5c9ee6" stroke-opacity="0.9" stroke-linecap="round"><line x1="22.6" y1="311.3" x2="20.5" y2="325.6" stroke-width="7.15"/><line x1="22.6" y1="311.3" x2="37" y2="313.8" stroke-width="7.15"/><line x1="37" y1="313.8" x2="50" y2="321.3" stroke-width="6.38"/><line x1="50" y1="321.3" x2="56" y2="328.5" stroke-width="5.50"/><line x1="50" y1="321.3" x2="49" y2="335.5" stroke-width="6.38"/><line x1="56" y1="328.5" x2="49" y2="335.5" stroke-width="5.50"/><line x1="56" y1="328.5" x2="60.7" y2="334.6" stroke-width="5.50"/><line x1="49" y1="335.5" x2="60.7" y2="334.6" stroke-width="7.59"/><line x1="49" y1="335.5" x2="57.3" y2="350.2" stroke-width="8.58"/><line x1="60.7" y1="334.6" x2="71.1" y2="340" stroke-width="7.59"/><line x1="60.7" y1="334.6" x2="57.3" y2="350.2" stroke-width="7.59"/><line x1="71.7" y1="318.4" x2="88" y2="323.6" stroke-width="10.89"/><line x1="88" y1="323.6" x2="87.4" y2="344.2" stroke-width="10.95"/><line x1="88" y1="323.6" x2="105.2" y2="318.4" stroke-width="8.53"/><line x1="71.1" y1="340" x2="87.4" y2="344.2" stroke-width="9.74"/><line x1="71.1" y1="340" x2="57.3" y2="350.2" stroke-width="8.74"/></g><g filter="url(#b04)"><ellipse cx="22.6" cy="311.3" rx="6.2" ry="6.8" fill="url(#cellP)" stroke="#2f4cbc" stroke-width="0.9" stroke-opacity="0.85"/><ellipse cx="20.5" cy="325.6" rx="7" ry="7.9" fill="url(#cellP)" stroke="#2f4cbc" stroke-width="0.9" stroke-opacity="0.85"/><ellipse cx="37" cy="313.8" rx="7.2" ry="8.2" fill="url(#cellP)" stroke="#2f4cbc" stroke-width="0.9" stroke-opacity="0.85"/><ellipse cx="50" cy="321.3" rx="5.8" ry="5.8" fill="url(#cellB)" stroke="#2f4cbc" stroke-width="0.9" stroke-opacity="0.85"/><ellipse cx="56" cy="328.5" rx="5" ry="5" fill="url(#cellD)" stroke="#2f4cbc" stroke-width="0.9" stroke-opacity="0.85"/><ellipse cx="49" cy="335.5" rx="7.2" ry="8.4" fill="url(#cellB)" stroke="#2f4cbc" stroke-width="0.9" stroke-opacity="0.85"/><ellipse cx="60.7" cy="334.6" rx="5.6" ry="8.2" fill="url(#cellB)" stroke="#2f4cbc" stroke-width="0.9" stroke-opacity="0.85"/><ellipse cx="71.7" cy="318.4" rx="8.7" ry="11.1" fill="url(#cellB)" stroke="#2f4cbc" stroke-width="0.9" stroke-opacity="0.85"/><ellipse cx="88" cy="323.6" rx="9.0" ry="10.9" fill="url(#cellP)" stroke="#2f4cbc" stroke-width="0.9" stroke-opacity="0.85"/><ellipse cx="71.1" cy="340" rx="8.2" ry="9.5" fill="url(#cellB)" stroke="#2f4cbc" stroke-width="0.9" stroke-opacity="0.85"/><ellipse cx="87.4" cy="344.2" rx="9.5" ry="10.4" fill="url(#cellP)" stroke="#2f4cbc" stroke-width="0.9" stroke-opacity="0.85"/><ellipse cx="57.3" cy="350.2" rx="8.2" ry="7.7" fill="url(#cellL)" stroke="#2f4cbc" stroke-width="0.9" stroke-opacity="0.85"/><ellipse cx="105.2" cy="318.4" rx="7.9" ry="7.6" fill="url(#cellP)" stroke="#2f4cbc" stroke-width="0.9" stroke-opacity="0.85"/><ellipse cx="116.5" cy="333.1" rx="5.8" ry="8.8" fill="url(#cellB)" stroke="#2f4cbc" stroke-width="0.9" stroke-opacity="0.85"/><ellipse cx="22.58" cy="311.76" rx="1.28" ry="1.47" fill="#7a7ee0" fill-opacity="0.55"/><ellipse cx="23.70" cy="308.10" rx="1.37" ry="1.95" fill="#b08ae0" fill-opacity="0.55"/><ellipse cx="22.76" cy="310.74" rx="1.00" ry="1.65" fill="#9a80e0" fill-opacity="0.55"/><ellipse cx="20.82" cy="313.30" rx="1.82" ry="1.96" fill="#7a7ee0" fill-opacity="0.55"/><ellipse cx="22.54" cy="311.35" rx="1.35" ry="1.37" fill="#b08ae0" fill-opacity="0.55"/><ellipse cx="21.31" cy="323.74" rx="1.20" ry="1.45" fill="#c090d8" fill-opacity="0.55"/><ellipse cx="23.08" cy="326.68" rx="1.51" ry="1.36" fill="#9a80e0" fill-opacity="0.55"/><ellipse cx="19.67" cy="326.13" rx="1.33" ry="2.18" fill="#b08ae0" fill-opacity="0.55"/><ellipse cx="20.17" cy="326.23" rx="1.16" ry="1.73" fill="#7a7ee0" fill-opacity="0.55"/><ellipse cx="19.91" cy="325.67" rx="1.71" ry="2.12" fill="#b08ae0" fill-opacity="0.55"/><ellipse cx="38.98" cy="312.66" rx="1.21" ry="2.16" fill="#c090d8" fill-opacity="0.55"/><ellipse cx="38.68" cy="313.44" rx="2.16" ry="2.37" fill="#c090d8" fill-opacity="0.55"/><ellipse cx="37.94" cy="314.55" rx="1.14" ry="2.12" fill="#9a80e0" fill-opacity="0.55"/><ellipse cx="35.95" cy="318.05" rx="1.56" ry="1.85" fill="#b08ae0" fill-opacity="0.55"/><ellipse cx="35.25" cy="313.66" rx="1.28" ry="1.77" fill="#c090d8" fill-opacity="0.55"/><ellipse cx="50.59" cy="320.93" rx="1.03" ry="1.60" fill="#9484e0" fill-opacity="0.55"/><ellipse cx="49.27" cy="321.20" rx="1.04" ry="0.94" fill="#8a8ae4" fill-opacity="0.55"/><ellipse cx="51.66" cy="322.31" rx="1.53" ry="1.02" fill="#6a74dc" fill-opacity="0.55"/><ellipse cx="51.39" cy="322.92" rx="1.58" ry="1.38" fill="#9484e0" fill-opacity="0.55"/><ellipse cx="50.06" cy="321.50" rx="1.32" ry="1.60" fill="#9484e0" fill-opacity="0.55"/><ellipse cx="57.23" cy="327.78" rx="1.00" ry="1.38" fill="#6a74dc" fill-opacity="0.55"/><ellipse cx="56.89" cy="327.48" rx="1.06" ry="1.32" fill="#8a8ae4" fill-opacity="0.55"/><ellipse cx="57.23" cy="329.86" rx="0.89" ry="1.37" fill="#8a8ae4" fill-opacity="0.55"/><ellipse cx="55.70" cy="328.83" rx="1.18" ry="1.39" fill="#6a74dc" fill-opacity="0.55"/><ellipse cx="54.41" cy="330.51" rx="0.80" ry="1.02" fill="#9484e0" fill-opacity="0.55"/><ellipse cx="49.11" cy="339.33" rx="1.92" ry="2.35" fill="#6a74dc" fill-opacity="0.55"/><ellipse cx="45.84" cy="333.59" rx="2.02" ry="2.46" fill="#6a74dc" fill-opacity="0.55"/><ellipse cx="46.97" cy="335.58" rx="1.95" ry="1.43" fill="#9484e0" fill-opacity="0.55"/><ellipse cx="49.01" cy="335.91" rx="1.28" ry="1.39" fill="#9484e0" fill-opacity="0.55"/><ellipse cx="48.99" cy="339.28" rx="1.10" ry="2.43" fill="#8a8ae4" fill-opacity="0.55"/><ellipse cx="60.64" cy="333.42" rx="1.37" ry="1.80" fill="#9484e0" fill-opacity="0.55"/><ellipse cx="60.80" cy="336.60" rx="1.57" ry="2.11" fill="#6a74dc" fill-opacity="0.55"/><ellipse cx="61.06" cy="334.76" rx="1.33" ry="2.17" fill="#6a74dc" fill-opacity="0.55"/><ellipse cx="60.99" cy="334.95" rx="1.29" ry="1.51" fill="#8a8ae4" fill-opacity="0.55"/><ellipse cx="61.00" cy="337.58" rx="1.47" ry="1.43" fill="#6a74dc" fill-opacity="0.55"/><ellipse cx="73.76" cy="313.32" rx="2.21" ry="2.66" fill="#6a74dc" fill-opacity="0.55"/><ellipse cx="71.56" cy="318.27" rx="2.32" ry="2.23" fill="#8a8ae4" fill-opacity="0.55"/><ellipse cx="71.80" cy="320.44" rx="2.41" ry="2.60" fill="#6a74dc" fill-opacity="0.55"/><ellipse cx="73.23" cy="318.23" rx="2.41" ry="1.75" fill="#6a74dc" fill-opacity="0.55"/><ellipse cx="67.14" cy="317.76" rx="1.63" ry="2.37" fill="#6a74dc" fill-opacity="0.55"/><ellipse cx="86.79" cy="321.98" rx="1.44" ry="2.34" fill="#9a80e0" fill-opacity="0.55"/><ellipse cx="87.90" cy="323.60" rx="1.92" ry="2.28" fill="#9a80e0" fill-opacity="0.55"/><ellipse cx="90.25" cy="323.56" rx="2.44" ry="3.08" fill="#b08ae0" fill-opacity="0.55"/><ellipse cx="88.13" cy="323.46" rx="2.59" ry="2.65" fill="#c090d8" fill-opacity="0.55"/><ellipse cx="85.24" cy="320.11" rx="2.19" ry="2.04" fill="#b08ae0" fill-opacity="0.55"/><ellipse cx="69.16" cy="339.71" rx="1.58" ry="1.86" fill="#8a8ae4" fill-opacity="0.55"/><ellipse cx="70.77" cy="339.50" rx="2.41" ry="2.74" fill="#9484e0" fill-opacity="0.55"/><ellipse cx="71.41" cy="339.74" rx="1.89" ry="1.64" fill="#9484e0" fill-opacity="0.55"/><ellipse cx="71.52" cy="340.48" rx="2.36" ry="2.25" fill="#6a74dc" fill-opacity="0.55"/><ellipse cx="70.60" cy="343.80" rx="1.90" ry="2.62" fill="#9484e0" fill-opacity="0.55"/><ellipse cx="85.10" cy="342.12" rx="1.71" ry="2.67" fill="#7a7ee0" fill-opacity="0.55"/><ellipse cx="84.62" cy="344.96" rx="2.09" ry="2.04" fill="#7a7ee0" fill-opacity="0.55"/><ellipse cx="87.46" cy="345.47" rx="2.81" ry="2.18" fill="#7a7ee0" fill-opacity="0.55"/><ellipse cx="88.15" cy="343.77" rx="1.89" ry="2.07" fill="#9a80e0" fill-opacity="0.55"/><ellipse cx="86.83" cy="349.18" rx="1.85" ry="2.76" fill="#9a80e0" fill-opacity="0.55"/><ellipse cx="57.46" cy="350.44" rx="1.77" ry="1.23" fill="#c090d8" fill-opacity="0.55"/><ellipse cx="55.79" cy="351.41" rx="1.87" ry="2.30" fill="#b08ae0" fill-opacity="0.55"/><ellipse cx="55.45" cy="346.65" rx="1.64" ry="1.56" fill="#7a7ee0" fill-opacity="0.55"/><ellipse cx="56.04" cy="347.87" rx="2.24" ry="1.75" fill="#c090d8" fill-opacity="0.55"/><ellipse cx="57.06" cy="347.06" rx="1.56" ry="1.88" fill="#7a7ee0" fill-opacity="0.55"/><ellipse cx="103.14" cy="316.23" rx="2.22" ry="1.14" fill="#7a7ee0" fill-opacity="0.55"/><ellipse cx="105.45" cy="315.96" rx="1.66" ry="2.27" fill="#7a7ee0" fill-opacity="0.55"/><ellipse cx="107.38" cy="321.27" rx="2.22" ry="1.83" fill="#c090d8" fill-opacity="0.55"/><ellipse cx="103.77" cy="319.70" rx="1.53" ry="1.54" fill="#7a7ee0" fill-opacity="0.55"/><ellipse cx="103.82" cy="320.15" rx="1.95" ry="1.15" fill="#7a7ee0" fill-opacity="0.55"/><ellipse cx="116.42" cy="328.31" rx="1.26" ry="1.56" fill="#6a74dc" fill-opacity="0.55"/><ellipse cx="116.35" cy="333.76" rx="1.20" ry="1.63" fill="#9484e0" fill-opacity="0.55"/><ellipse cx="116.96" cy="331.66" rx="1.60" ry="2.59" fill="#9484e0" fill-opacity="0.55"/><ellipse cx="116.89" cy="335.08" rx="0.89" ry="1.66" fill="#8a8ae4" fill-opacity="0.55"/><ellipse cx="117.26" cy="332.22" rx="1.54" ry="2.03" fill="#9484e0" fill-opacity="0.55"/><circle cx="62.5" cy="309.5" r="2.2" fill="#2a8ad0" fill-opacity="0.8"/><circle cx="109" cy="299" r="0.7" fill="#a0a0b0"/><circle cx="100" cy="307.3" r="0.7" fill="#a0a0b0"/><circle cx="110.5" cy="306.7" r="0.6" fill="#b0b0c0"/><circle cx="117.8" cy="352.8" r="1.3" fill="#8ac0e0" fill-opacity="0.7"/><circle cx="117.5" cy="361" r="1.1" fill="#a0c8e0" fill-opacity="0.7"/></g></g>
<rect x="15.5" y="289.9" width="105.4" height="85.3" fill="none" stroke="#151515" stroke-width="1.25"/>
<text x="17.8" y="300.6" font-size="8.3" font-weight="bold" fill="#111" stroke="#111" stroke-width="0.12" textLength="70.8" lengthAdjust="spacingAndGlyphs" >AF9+Ri125b+Dox</text>
<line x1="19.40" y1="360.00" x2="35.20" y2="360.00" stroke="#8a1828" stroke-width="1.8"/>
<text x="18.2" y="369.2" font-size="7.6" font-weight="bold" fill="#8a1828" stroke="#8a1828" stroke-width="0.12" textLength="21.6" lengthAdjust="spacingAndGlyphs" >10um</text>
<text x="137" y="192.4" font-size="11.8" font-weight="bold" fill="#111" stroke="#111" stroke-width="0.12" >E</text>
<text x="171.2" y="204.7" font-size="8.4" font-weight="bold" fill="#111" stroke="#111" stroke-width="0.12" textLength="56.5" lengthAdjust="spacingAndGlyphs" >Size of Blasts</text>
<text x="186.8" y="214.6" font-size="8.4" font-weight="bold" fill="#111" stroke="#111" stroke-width="0.12" textLength="25.9" lengthAdjust="spacingAndGlyphs" >(n=40)</text>
<line x1="173.50" y1="225.30" x2="173.50" y2="309.40" stroke="#111" stroke-width="1.2"/>
<line x1="172.90" y1="309.40" x2="225.40" y2="309.40" stroke="#111" stroke-width="1.2"/>
<line x1="170.10" y1="309.40" x2="173.50" y2="309.40" stroke="#111" stroke-width="1.1"/>
<text x="167.5" y="312.2" font-size="7.9" fill="#2a2a2a" stroke="#2a2a2a" stroke-width="0.3" text-anchor="end" >0</text>
<line x1="170.10" y1="288.90" x2="173.50" y2="288.90" stroke="#111" stroke-width="1.1"/>
<text x="167.5" y="291.7" font-size="7.9" fill="#2a2a2a" stroke="#2a2a2a" stroke-width="0.3" text-anchor="end" >4</text>
<line x1="170.10" y1="268.40" x2="173.50" y2="268.40" stroke="#111" stroke-width="1.1"/>
<text x="167.5" y="271.2" font-size="7.9" fill="#2a2a2a" stroke="#2a2a2a" stroke-width="0.3" text-anchor="end" >8</text>
<line x1="170.10" y1="247.90" x2="173.50" y2="247.90" stroke="#111" stroke-width="1.1"/>
<text x="167.5" y="250.7" font-size="7.9" fill="#2a2a2a" stroke="#2a2a2a" stroke-width="0.3" text-anchor="end" >12</text>
<line x1="170.10" y1="227.40" x2="173.50" y2="227.40" stroke="#111" stroke-width="1.1"/>
<text x="167.5" y="230.2" font-size="7.9" fill="#2a2a2a" stroke="#2a2a2a" stroke-width="0.3" text-anchor="end" >16</text>
<line x1="198.10" y1="309.40" x2="198.10" y2="312.20" stroke="#111" stroke-width="1.1"/>
<line x1="222.30" y1="309.40" x2="222.30" y2="312.20" stroke="#111" stroke-width="1.1"/>
<rect x="182.1" y="252.72" width="8.2" height="56.68" fill="#2f4f86"/>
<rect x="206.1" y="254.92" width="8.7" height="54.48" fill="#a8143c"/>
<line x1="186.10" y1="238.30" x2="186.10" y2="267.40" stroke="#111" stroke-width="1.0"/>
<line x1="183.90" y1="238.30" x2="188.30" y2="238.30" stroke="#111" stroke-width="1.0"/>
<line x1="183.90" y1="267.40" x2="188.30" y2="267.40" stroke="#111" stroke-width="1.0"/>
<line x1="210.40" y1="246.40" x2="210.40" y2="263.00" stroke="#111" stroke-width="1.0"/>
<line x1="208.20" y1="246.40" x2="212.60" y2="246.40" stroke="#111" stroke-width="1.0"/>
<line x1="208.20" y1="263.00" x2="212.60" y2="263.00" stroke="#111" stroke-width="1.0"/>
<text x="205.8" y="242.5" font-size="7.6" fill="#2a2a2a" stroke="#2a2a2a" stroke-width="0.2" textLength="10.6" lengthAdjust="spacingAndGlyphs" >NS</text>
<text x="153.4" y="295.2" font-size="9.3" fill="#2a2a2a" stroke="#2a2a2a" stroke-width="0.2" textLength="56" lengthAdjust="spacingAndGlyphs" transform="rotate(-90 153.4 295.2)" >Diameter (um)</text>
<text x="178.6" y="328.6" font-size="7.6" fill="#2a2a2a" stroke="#2a2a2a" stroke-width="0.2" textLength="14.6" lengthAdjust="spacingAndGlyphs" transform="rotate(-45 178.6 328.6)" >AF9</text>
<text x="167.0" y="364.2" font-size="7.6" fill="#2a2a2a" stroke="#2a2a2a" stroke-width="0.2" textLength="64.8" lengthAdjust="spacingAndGlyphs" transform="rotate(-45 167.0 364.2)" >AF9+Ri125b+Dox</text>
<text x="271.2" y="204.6" font-size="8.4" font-weight="bold" fill="#111" stroke="#111" stroke-width="0.12" textLength="54.7" lengthAdjust="spacingAndGlyphs" >Bone Marrow</text>
<text x="277.6" y="214.4" font-size="8.4" font-weight="bold" fill="#111" stroke="#111" stroke-width="0.12" textLength="42" lengthAdjust="spacingAndGlyphs" >Blasts (%)</text>
<line x1="270.40" y1="231.10" x2="270.40" y2="309.40" stroke="#111" stroke-width="1.2"/>
<line x1="269.80" y1="309.40" x2="326.80" y2="309.40" stroke="#111" stroke-width="1.2"/>
<line x1="267.10" y1="309.40" x2="270.40" y2="309.40" stroke="#111" stroke-width="1.1"/>
<text x="264.0" y="312.2" font-size="7.9" fill="#2a2a2a" stroke="#2a2a2a" stroke-width="0.3" text-anchor="end" >0</text>
<line x1="267.10" y1="294.42" x2="270.40" y2="294.42" stroke="#111" stroke-width="1.1"/>
<text x="264.0" y="297.22" font-size="7.9" fill="#2a2a2a" stroke="#2a2a2a" stroke-width="0.3" text-anchor="end" >20</text>
<line x1="267.10" y1="279.44" x2="270.40" y2="279.44" stroke="#111" stroke-width="1.1"/>
<text x="264.0" y="282.24" font-size="7.9" fill="#2a2a2a" stroke="#2a2a2a" stroke-width="0.3" text-anchor="end" >40</text>
<line x1="267.10" y1="264.46" x2="270.40" y2="264.46" stroke="#111" stroke-width="1.1"/>
<text x="264.0" y="267.26" font-size="7.9" fill="#2a2a2a" stroke="#2a2a2a" stroke-width="0.3" text-anchor="end" >60</text>
<line x1="267.10" y1="249.48" x2="270.40" y2="249.48" stroke="#111" stroke-width="1.1"/>
<text x="264.0" y="252.28" font-size="7.9" fill="#2a2a2a" stroke="#2a2a2a" stroke-width="0.3" text-anchor="end" >80</text>
<line x1="267.10" y1="234.50" x2="270.40" y2="234.50" stroke="#111" stroke-width="1.1"/>
<text x="264.0" y="237.3" font-size="7.9" fill="#2a2a2a" stroke="#2a2a2a" stroke-width="0.3" text-anchor="end" >100</text>
<line x1="297.10" y1="309.40" x2="297.10" y2="312.20" stroke="#111" stroke-width="1.1"/>
<line x1="323.80" y1="309.40" x2="323.80" y2="312.20" stroke="#111" stroke-width="1.1"/>
<rect x="279.5" y="247.08" width="8.7" height="62.32" fill="#a8143c"/>
<rect x="306.3" y="250.90" width="8.6" height="58.50" fill="#2f4f86"/>
<line x1="283.80" y1="240.60" x2="283.80" y2="254.20" stroke="#111" stroke-width="1.0"/>
<line x1="281.60" y1="240.60" x2="286.00" y2="240.60" stroke="#111" stroke-width="1.0"/>
<line x1="281.60" y1="254.20" x2="286.00" y2="254.20" stroke="#111" stroke-width="1.0"/>
<line x1="310.60" y1="249.30" x2="310.60" y2="253.00" stroke="#111" stroke-width="1.0"/>
<line x1="308.40" y1="249.30" x2="312.80" y2="249.30" stroke="#111" stroke-width="1.0"/>
<line x1="308.40" y1="253.00" x2="312.80" y2="253.00" stroke="#111" stroke-width="1.0"/>
<text x="278.5" y="238.2" font-size="7.4" fill="#2a2a2a" stroke="#2a2a2a" stroke-width="0.2" textLength="10.7" lengthAdjust="spacingAndGlyphs" >NS</text>
<text x="245.9" y="316.6" font-size="9.2" fill="#2a2a2a" stroke="#2a2a2a" stroke-width="0.2" textLength="93.2" lengthAdjust="spacingAndGlyphs" transform="rotate(-90 245.9 316.6)" >Bone marrow blasts (%)</text>
<text x="240.6" y="364.0" font-size="7.6" fill="#2a2a2a" stroke="#2a2a2a" stroke-width="0.2" textLength="63.8" lengthAdjust="spacingAndGlyphs" transform="rotate(-45 240.6 364.0)" >AF9+Ri125b+Dox</text>
<text x="268.5" y="363.2" font-size="7.6" fill="#2a2a2a" stroke="#2a2a2a" stroke-width="0.2" textLength="62.8" lengthAdjust="spacingAndGlyphs" transform="rotate(-45 268.5 363.2)" >AF9+Ri125b-Dox</text>
<text x="344.2" y="193" font-size="11.8" font-weight="bold" fill="#111" stroke="#111" stroke-width="0.12" >F</text>
<text x="379.2" y="205" font-size="8.4" font-weight="bold" fill="#111" stroke="#111" stroke-width="0.12" textLength="64.7" lengthAdjust="spacingAndGlyphs" >Secondary AML</text>
<polygon points="401.80,212.50 408.30,210.00 411.30,215.80 410.40,216.30 414.30,218.80 418.70,226.00 411.60,221.20 412.30,220.60 408.20,218.40 405.00,217.10 405.90,215.60" fill="#e4cc40" stroke="#151515" stroke-width="1.4" stroke-linejoin="round"/>
<g transform="translate(297.9 191.5) scale(1.0)" fill="none" stroke="#111" stroke-width="1.6"><path d="M112.4,40 C111.2,51 113.3,58 119.4,58 C125.5,58 127.6,51 126.4,40"/><path d="M119.4,58 C118.6,60.1 116.5,60.6 114.3,61.5 C111.8,62.6 110.3,64.6 109.6,67.4"/><ellipse cx="115.8" cy="38.7" rx="2.85" ry="4.5" fill="#fff"/><ellipse cx="122.95" cy="38.7" rx="2.85" ry="4.5" fill="#fff"/></g>
<polygon points="403.60,291.90 410.10,289.40 413.10,295.20 412.20,295.70 416.10,298.20 420.50,305.40 413.40,300.60 414.10,300.00 410.00,297.80 406.80,296.50 407.70,295.00" fill="#e4cc40" stroke="#151515" stroke-width="1.4" stroke-linejoin="round"/>
<g transform="translate(298.6 271.5) scale(1.0)" fill="none" stroke="#111" stroke-width="1.6"><path d="M112.4,40 C111.2,51 113.3,58 119.4,58 C125.5,58 127.6,51 126.4,40"/><path d="M119.4,58 C118.6,60.1 116.5,60.6 114.3,61.5 C111.8,62.6 110.3,64.6 109.6,67.4"/><ellipse cx="115.8" cy="38.7" rx="2.85" ry="4.5" fill="#fff"/><ellipse cx="122.95" cy="38.7" rx="2.85" ry="4.5" fill="#fff"/></g>
<circle cx="356.6" cy="272.6" r="2.85" fill="#5c984c" stroke="#2a4e2a" stroke-width="1.2"/>
<circle cx="356.40000000000003" cy="272.3" r="1.3" fill="#7eaa66"/>
<circle cx="364" cy="269.6" r="2.85" fill="#5c984c" stroke="#2a4e2a" stroke-width="1.2"/>
<circle cx="363.8" cy="269.3" r="1.3" fill="#7eaa66"/>
<circle cx="372" cy="271.5" r="2.85" fill="#5c984c" stroke="#2a4e2a" stroke-width="1.2"/>
<circle cx="371.8" cy="271.2" r="1.3" fill="#7eaa66"/>
<circle cx="354" cy="280" r="2.85" fill="#5c984c" stroke="#2a4e2a" stroke-width="1.2"/>
<circle cx="353.8" cy="279.7" r="1.3" fill="#7eaa66"/>
<circle cx="361.7" cy="278.4" r="2.85" fill="#5c984c" stroke="#2a4e2a" stroke-width="1.2"/>
<circle cx="361.5" cy="278.09999999999997" r="1.3" fill="#7eaa66"/>
<circle cx="368.5" cy="279.8" r="2.85" fill="#5c984c" stroke="#2a4e2a" stroke-width="1.2"/>
<circle cx="368.3" cy="279.5" r="1.3" fill="#7eaa66"/>
<circle cx="375.9" cy="279.8" r="2.85" fill="#5c984c" stroke="#2a4e2a" stroke-width="1.2"/>
<circle cx="375.7" cy="279.5" r="1.3" fill="#7eaa66"/>
<circle cx="359" cy="286.3" r="2.85" fill="#5c984c" stroke="#2a4e2a" stroke-width="1.2"/>
<circle cx="358.8" cy="286.0" r="1.3" fill="#7eaa66"/>
<circle cx="366.2" cy="289.3" r="2.85" fill="#5c984c" stroke="#2a4e2a" stroke-width="1.2"/>
<circle cx="366.0" cy="289.0" r="1.3" fill="#7eaa66"/>
<circle cx="373.4" cy="287.4" r="2.85" fill="#5c984c" stroke="#2a4e2a" stroke-width="1.2"/>
<circle cx="373.2" cy="287.09999999999997" r="1.3" fill="#7eaa66"/>
<line x1="378.90" y1="277.70" x2="389.50" y2="277.70" stroke="#111" stroke-width="1.2"/>
<path d="M393.4,277.7 L387.8,275.3 L389.3,277.7 L387.8,280.1 Z" fill="#111"/>
<polyline points="403.4,229.6 395.2,229.6 395.2,324.4 403.6,324.4" fill="none" stroke="#111" stroke-width="1.3"/>
<text x="431.7" y="233.6" font-size="8.2" fill="#2a2a2a" stroke="#2a2a2a" stroke-width="0.2" textLength="14.5" lengthAdjust="spacingAndGlyphs" >Dox</text>
<text x="431.7" y="244" font-size="8.2" fill="#2a2a2a" stroke="#2a2a2a" stroke-width="0.2" textLength="35.5" lengthAdjust="spacingAndGlyphs" >continual</text>
<text x="431.7" y="315.4" font-size="8.2" fill="#2a2a2a" stroke="#2a2a2a" stroke-width="0.2" textLength="14.5" lengthAdjust="spacingAndGlyphs" >Dox</text>
<text x="431.7" y="326" font-size="8.2" fill="#2a2a2a" stroke="#2a2a2a" stroke-width="0.2" textLength="41.5" lengthAdjust="spacingAndGlyphs" >withdrawal</text>
<text x="351" y="308.4" font-size="8.2" fill="#2a2a2a" stroke="#2a2a2a" stroke-width="0.2" textLength="30" lengthAdjust="spacingAndGlyphs" >Primary</text>
<text x="351" y="318.6" font-size="8.2" fill="#2a2a2a" stroke="#2a2a2a" stroke-width="0.2" textLength="37" lengthAdjust="spacingAndGlyphs" >Leukemia</text>
<text x="411.3" y="270.7" font-size="8" fill="#2a2a2a" stroke="#2a2a2a" stroke-width="0.2" >2</text>
<text x="416.0" y="267.3" font-size="4.5" fill="#2a2a2a" stroke="#2a2a2a" stroke-width="0.2" textLength="7.0" lengthAdjust="spacingAndGlyphs" >nd</text>
<text x="426.3" y="270.7" font-size="8" fill="#2a2a2a" stroke="#2a2a2a" stroke-width="0.2" textLength="32.3" lengthAdjust="spacingAndGlyphs" >recipient</text>
<text x="409" y="351.9" font-size="8" fill="#2a2a2a" stroke="#2a2a2a" stroke-width="0.2" >2</text>
<text x="413.7" y="348.5" font-size="4.5" fill="#2a2a2a" stroke="#2a2a2a" stroke-width="0.2" textLength="7.0" lengthAdjust="spacingAndGlyphs" >nd</text>
<text x="424.4" y="351.9" font-size="8" fill="#2a2a2a" stroke="#2a2a2a" stroke-width="0.2" textLength="32.3" lengthAdjust="spacingAndGlyphs" >recipient</text>
<text x="7.6" y="407.3" font-size="11.8" font-weight="bold" fill="#111" stroke="#111" stroke-width="0.12" >G</text>
<text x="74.4" y="413.3" font-size="8.4" font-weight="bold" fill="#111" stroke="#111" stroke-width="0.12" textLength="65.8" lengthAdjust="spacingAndGlyphs" >Secondary AML</text>
<text x="53.7" y="423.5" font-size="8.4" font-weight="bold" fill="#111" stroke="#111" stroke-width="0.12" textLength="106.3" lengthAdjust="spacingAndGlyphs" >Leukemogenesis: Donor 1</text>
<line x1="49.85" y1="434.00" x2="49.85" y2="537.90" stroke="#111" stroke-width="1.2"/>
<line x1="49.85" y1="535.10" x2="171.30" y2="535.10" stroke="#111" stroke-width="1.2"/>
<line x1="47.05" y1="535.10" x2="49.85" y2="535.10" stroke="#111" stroke-width="1.1"/>
<text x="43.85" y="537.9" font-size="7.9" fill="#2a2a2a" stroke="#2a2a2a" stroke-width="0.3" text-anchor="end" >0</text>
<line x1="47.05" y1="515.44" x2="49.85" y2="515.44" stroke="#111" stroke-width="1.1"/>
<text x="43.85" y="518.24" font-size="7.9" fill="#2a2a2a" stroke="#2a2a2a" stroke-width="0.3" text-anchor="end" >20</text>
<line x1="47.05" y1="495.78" x2="49.85" y2="495.78" stroke="#111" stroke-width="1.1"/>
<text x="43.85" y="498.58" font-size="7.9" fill="#2a2a2a" stroke="#2a2a2a" stroke-width="0.3" text-anchor="end" >40</text>
<line x1="47.05" y1="476.12" x2="49.85" y2="476.12" stroke="#111" stroke-width="1.1"/>
<text x="43.85" y="478.92" font-size="7.9" fill="#2a2a2a" stroke="#2a2a2a" stroke-width="0.3" text-anchor="end" >60</text>
<line x1="47.05" y1="456.46" x2="49.85" y2="456.46" stroke="#111" stroke-width="1.1"/>
<text x="43.85" y="459.26" font-size="7.9" fill="#2a2a2a" stroke="#2a2a2a" stroke-width="0.3" text-anchor="end" >80</text>
<line x1="47.05" y1="436.80" x2="49.85" y2="436.80" stroke="#111" stroke-width="1.1"/>
<text x="43.85" y="439.6" font-size="7.9" fill="#2a2a2a" stroke="#2a2a2a" stroke-width="0.3" text-anchor="end" >100</text>
<line x1="49.85" y1="535.10" x2="49.85" y2="537.90" stroke="#111" stroke-width="1.1"/>
<text x="49.95" y="547.9" font-size="7.9" fill="#2a2a2a" stroke="#2a2a2a" stroke-width="0.3" text-anchor="middle" >0</text>
<line x1="73.47" y1="535.10" x2="73.47" y2="537.90" stroke="#111" stroke-width="1.1"/>
<text x="73.57" y="547.9" font-size="7.9" fill="#2a2a2a" stroke="#2a2a2a" stroke-width="0.3" text-anchor="middle" >20</text>
<line x1="97.09" y1="535.10" x2="97.09" y2="537.90" stroke="#111" stroke-width="1.1"/>
<text x="97.19" y="547.9" font-size="7.9" fill="#2a2a2a" stroke="#2a2a2a" stroke-width="0.3" text-anchor="middle" >40</text>
<line x1="120.71" y1="535.10" x2="120.71" y2="537.90" stroke="#111" stroke-width="1.1"/>
<text x="120.81" y="547.9" font-size="7.9" fill="#2a2a2a" stroke="#2a2a2a" stroke-width="0.3" text-anchor="middle" >60</text>
<line x1="144.33" y1="535.10" x2="144.33" y2="537.90" stroke="#111" stroke-width="1.1"/>
<text x="144.43" y="547.9" font-size="7.9" fill="#2a2a2a" stroke="#2a2a2a" stroke-width="0.3" text-anchor="middle" >80</text>
<line x1="167.95" y1="535.10" x2="167.95" y2="537.90" stroke="#111" stroke-width="1.1"/>
<text x="168.05" y="547.9" font-size="7.9" fill="#2a2a2a" stroke="#2a2a2a" stroke-width="0.3" text-anchor="middle" >100</text>
<text x="24.4" y="511.3" font-size="9.4" fill="#2a2a2a" stroke="#2a2a2a" stroke-width="0.2" textLength="63.7" lengthAdjust="spacingAndGlyphs" transform="rotate(-90 24.4 511.3)" >Survival rate(%)</text>
<text x="46.3" y="561.3" font-size="9.6" fill="#2a2a2a" stroke="#2a2a2a" stroke-width="0.2" textLength="121" lengthAdjust="spacingAndGlyphs" >Time post transplantation(days)</text>
<polyline points="49.85,436.80 81.75,436.80 81.75,495.78 86.25,495.78 86.25,515.44 97.00,515.44 97.00,535.10" fill="none" stroke="#9c1c44" stroke-width="1.3" stroke-linejoin="miter" stroke-linecap="butt"/>
<polyline points="49.85,436.80 93.75,436.80 93.75,456.46 94.80,456.46 94.80,476.12 153.00,476.12" fill="none" stroke="#2e3b5e" stroke-width="1.3" stroke-linejoin="miter" stroke-linecap="butt"/>
<text x="98.8" y="451.7" font-size="8.0" fill="#40598c" stroke="#40598c" stroke-width="0.2" textLength="44.4" lengthAdjust="spacingAndGlyphs" >AF9+Ri125b,</text>
<text x="98.8" y="461.1" font-size="8.0" fill="#40598c" stroke="#40598c" stroke-width="0.2" textLength="51.9" lengthAdjust="spacingAndGlyphs" >Dox withdrawal</text>
<text x="98.8" y="470.2" font-size="8.0" fill="#40598c" stroke="#40598c" stroke-width="0.2" textLength="18.5" lengthAdjust="spacingAndGlyphs" >(n=5)</text>
<text x="100.8" y="511" font-size="8.0" fill="#9a2c52" stroke="#9a2c52" stroke-width="0.2" textLength="44.5" lengthAdjust="spacingAndGlyphs" >AF9+Ri125b,</text>
<text x="100.8" y="520.3" font-size="8.0" fill="#9a2c52" stroke="#9a2c52" stroke-width="0.2" textLength="46" lengthAdjust="spacingAndGlyphs" >Dox continual</text>
<text x="100.8" y="529.6" font-size="8.0" fill="#9a2c52" stroke="#9a2c52" stroke-width="0.2" textLength="18.5" lengthAdjust="spacingAndGlyphs" >(n=5)</text>
<text x="115.5" y="488.4" font-size="8.1" font-weight="bold" fill="#111" stroke="#111" stroke-width="0.12" textLength="27.5" lengthAdjust="spacingAndGlyphs" >P&lt;0.001</text>
<text x="244.4" y="413.3" font-size="8.4" font-weight="bold" fill="#111" stroke="#111" stroke-width="0.12" textLength="65.8" lengthAdjust="spacingAndGlyphs" >Secondary AML</text>
<text x="222.6" y="423.5" font-size="8.4" font-weight="bold" fill="#111" stroke="#111" stroke-width="0.12" textLength="109.4" lengthAdjust="spacingAndGlyphs" >Leukemogenesis: Donor 2</text>
<line x1="214.40" y1="439.40" x2="214.40" y2="537.60" stroke="#111" stroke-width="1.2"/>
<line x1="214.40" y1="534.80" x2="337.00" y2="534.80" stroke="#111" stroke-width="1.2"/>
<line x1="211.60" y1="534.80" x2="214.40" y2="534.80" stroke="#111" stroke-width="1.1"/>
<text x="208.4" y="537.6" font-size="7.9" fill="#2a2a2a" stroke="#2a2a2a" stroke-width="0.3" text-anchor="end" >0</text>
<line x1="211.60" y1="516.34" x2="214.40" y2="516.34" stroke="#111" stroke-width="1.1"/>
<text x="208.4" y="519.14" font-size="7.9" fill="#2a2a2a" stroke="#2a2a2a" stroke-width="0.3" text-anchor="end" >20</text>
<line x1="211.60" y1="497.88" x2="214.40" y2="497.88" stroke="#111" stroke-width="1.1"/>
<text x="208.4" y="500.68" font-size="7.9" fill="#2a2a2a" stroke="#2a2a2a" stroke-width="0.3" text-anchor="end" >40</text>
<line x1="211.60" y1="479.42" x2="214.40" y2="479.42" stroke="#111" stroke-width="1.1"/>
<text x="208.4" y="482.22" font-size="7.9" fill="#2a2a2a" stroke="#2a2a2a" stroke-width="0.3" text-anchor="end" >60</text>
<line x1="211.60" y1="460.96" x2="214.40" y2="460.96" stroke="#111" stroke-width="1.1"/>
<text x="208.4" y="463.76" font-size="7.9" fill="#2a2a2a" stroke="#2a2a2a" stroke-width="0.3" text-anchor="end" >80</text>
<line x1="211.60" y1="442.50" x2="214.40" y2="442.50" stroke="#111" stroke-width="1.1"/>
<text x="208.4" y="445.3" font-size="7.9" fill="#2a2a2a" stroke="#2a2a2a" stroke-width="0.3" text-anchor="end" >100</text>
<line x1="214.40" y1="534.80" x2="214.40" y2="537.60" stroke="#111" stroke-width="1.1"/>
<text x="214.5" y="547.9" font-size="7.9" fill="#2a2a2a" stroke="#2a2a2a" stroke-width="0.3" text-anchor="middle" >0</text>
<line x1="238.20" y1="534.80" x2="238.20" y2="537.60" stroke="#111" stroke-width="1.1"/>
<text x="238.3" y="547.9" font-size="7.9" fill="#2a2a2a" stroke="#2a2a2a" stroke-width="0.3" text-anchor="middle" >20</text>
<line x1="262.00" y1="534.80" x2="262.00" y2="537.60" stroke="#111" stroke-width="1.1"/>
<text x="262.1" y="547.9" font-size="7.9" fill="#2a2a2a" stroke="#2a2a2a" stroke-width="0.3" text-anchor="middle" >40</text>
<line x1="285.80" y1="534.80" x2="285.80" y2="537.60" stroke="#111" stroke-width="1.1"/>
<text x="285.9" y="547.9" font-size="7.9" fill="#2a2a2a" stroke="#2a2a2a" stroke-width="0.3" text-anchor="middle" >60</text>
<line x1="309.60" y1="534.80" x2="309.60" y2="537.60" stroke="#111" stroke-width="1.1"/>
<text x="309.7" y="547.9" font-size="7.9" fill="#2a2a2a" stroke="#2a2a2a" stroke-width="0.3" text-anchor="middle" >80</text>
<line x1="333.40" y1="534.80" x2="333.40" y2="537.60" stroke="#111" stroke-width="1.1"/>
<text x="333.5" y="547.9" font-size="7.9" fill="#2a2a2a" stroke="#2a2a2a" stroke-width="0.3" text-anchor="middle" >100</text>
<text x="188.8" y="518" font-size="9.4" fill="#2a2a2a" stroke="#2a2a2a" stroke-width="0.2" textLength="63" lengthAdjust="spacingAndGlyphs" transform="rotate(-90 188.8 518)" >Survival rate(%)</text>
<text x="216.3" y="561.3" font-size="9.6" fill="#2a2a2a" stroke="#2a2a2a" stroke-width="0.2" textLength="122" lengthAdjust="spacingAndGlyphs" >Time post transplantation(days)</text>
<polyline points="214.40,442.50 260.00,442.50 260.00,451.73 267.30,451.73 267.30,470.19 275.60,470.19 275.60,479.42 278.20,479.42 278.20,488.65 282.40,488.65 282.40,507.11 287.60,507.11 287.60,525.57 292.00,525.57 292.00,534.80" fill="none" stroke="#9c1c44" stroke-width="1.3" stroke-linejoin="miter" stroke-linecap="butt"/>
<polyline points="214.40,442.50 282.40,442.50 282.40,452.75 287.60,452.75 287.60,462.99 289.40,462.99 289.40,473.24 292.00,473.24 292.00,483.48 301.60,483.48 301.60,493.82 303.10,493.82 303.10,504.06 305.70,504.06 305.70,524.55 310.10,524.55 310.10,534.80" fill="none" stroke="#2e3b5e" stroke-width="1.3" stroke-linejoin="miter" stroke-linecap="butt"/>
<text x="294.6" y="451.7" font-size="8.0" fill="#40598c" stroke="#40598c" stroke-width="0.2" textLength="44.4" lengthAdjust="spacingAndGlyphs" >AF9+Ri125b,</text>
<text x="294.6" y="461.0" font-size="8.0" fill="#40598c" stroke="#40598c" stroke-width="0.2" textLength="51.9" lengthAdjust="spacingAndGlyphs" >Dox withdrawal</text>
<text x="294.6" y="470.1" font-size="8.0" fill="#40598c" stroke="#40598c" stroke-width="0.2" textLength="18.5" lengthAdjust="spacingAndGlyphs" >(n=9)</text>
<text x="238.4" y="511" font-size="8.0" fill="#9a2c52" stroke="#9a2c52" stroke-width="0.2" textLength="44.5" lengthAdjust="spacingAndGlyphs" >AF9+Ri125b,</text>
<text x="238.4" y="520.3" font-size="8.0" fill="#9a2c52" stroke="#9a2c52" stroke-width="0.2" textLength="46" lengthAdjust="spacingAndGlyphs" >Dox continual</text>
<text x="238.4" y="529.6" font-size="8.0" fill="#9a2c52" stroke="#9a2c52" stroke-width="0.2" textLength="21" lengthAdjust="spacingAndGlyphs" >(n=10)</text>
<text x="240" y="488.1" font-size="8.1" font-weight="bold" fill="#111" stroke="#111" stroke-width="0.12" textLength="27.3" lengthAdjust="spacingAndGlyphs" >P&lt;0.001</text>
<text x="417.9" y="413.3" font-size="8.4" font-weight="bold" fill="#111" stroke="#111" stroke-width="0.12" textLength="64.7" lengthAdjust="spacingAndGlyphs" >Secondary AML</text>
<text x="396" y="423.5" font-size="8.4" font-weight="bold" fill="#111" stroke="#111" stroke-width="0.12" textLength="108.4" lengthAdjust="spacingAndGlyphs" >Leukemogenesis: Donor 3</text>
<line x1="391.70" y1="440.30" x2="391.70" y2="537.60" stroke="#111" stroke-width="1.2"/>
<line x1="391.70" y1="534.80" x2="506.50" y2="534.80" stroke="#111" stroke-width="1.2"/>
<line x1="388.90" y1="534.80" x2="391.70" y2="534.80" stroke="#111" stroke-width="1.1"/>
<text x="385.7" y="537.6" font-size="7.9" fill="#2a2a2a" stroke="#2a2a2a" stroke-width="0.3" text-anchor="end" >0</text>
<line x1="388.90" y1="516.51" x2="391.70" y2="516.51" stroke="#111" stroke-width="1.1"/>
<text x="385.7" y="519.31" font-size="7.9" fill="#2a2a2a" stroke="#2a2a2a" stroke-width="0.3" text-anchor="end" >20</text>
<line x1="388.90" y1="498.22" x2="391.70" y2="498.22" stroke="#111" stroke-width="1.1"/>
<text x="385.7" y="501.02" font-size="7.9" fill="#2a2a2a" stroke="#2a2a2a" stroke-width="0.3" text-anchor="end" >40</text>
<line x1="388.90" y1="479.93" x2="391.70" y2="479.93" stroke="#111" stroke-width="1.1"/>
<text x="385.7" y="482.73" font-size="7.9" fill="#2a2a2a" stroke="#2a2a2a" stroke-width="0.3" text-anchor="end" >60</text>
<line x1="388.90" y1="461.64" x2="391.70" y2="461.64" stroke="#111" stroke-width="1.1"/>
<text x="385.7" y="464.44" font-size="7.9" fill="#2a2a2a" stroke="#2a2a2a" stroke-width="0.3" text-anchor="end" >80</text>
<line x1="388.90" y1="443.35" x2="391.70" y2="443.35" stroke="#111" stroke-width="1.1"/>
<text x="385.7" y="446.15" font-size="7.9" fill="#2a2a2a" stroke="#2a2a2a" stroke-width="0.3" text-anchor="end" >100</text>
<line x1="391.70" y1="534.80" x2="391.70" y2="537.60" stroke="#111" stroke-width="1.1"/>
<text x="391.8" y="547.9" font-size="7.9" fill="#2a2a2a" stroke="#2a2a2a" stroke-width="0.3" text-anchor="middle" >0</text>
<line x1="414.32" y1="534.80" x2="414.32" y2="537.60" stroke="#111" stroke-width="1.1"/>
<text x="414.42" y="547.9" font-size="7.9" fill="#2a2a2a" stroke="#2a2a2a" stroke-width="0.3" text-anchor="middle" >20</text>
<line x1="436.94" y1="534.80" x2="436.94" y2="537.60" stroke="#111" stroke-width="1.1"/>
<text x="437.04" y="547.9" font-size="7.9" fill="#2a2a2a" stroke="#2a2a2a" stroke-width="0.3" text-anchor="middle" >40</text>
<line x1="459.56" y1="534.80" x2="459.56" y2="537.60" stroke="#111" stroke-width="1.1"/>
<text x="459.66" y="547.9" font-size="7.9" fill="#2a2a2a" stroke="#2a2a2a" stroke-width="0.3" text-anchor="middle" >60</text>
<line x1="482.18" y1="534.80" x2="482.18" y2="537.60" stroke="#111" stroke-width="1.1"/>
<text x="482.28" y="547.9" font-size="7.9" fill="#2a2a2a" stroke="#2a2a2a" stroke-width="0.3" text-anchor="middle" >80</text>
<line x1="504.80" y1="534.80" x2="504.80" y2="537.60" stroke="#111" stroke-width="1.1"/>
<text x="504.9" y="547.9" font-size="7.9" fill="#2a2a2a" stroke="#2a2a2a" stroke-width="0.3" text-anchor="middle" >100</text>
<text x="367.2" y="516.1" font-size="9.4" fill="#2a2a2a" stroke="#2a2a2a" stroke-width="0.2" textLength="62.8" lengthAdjust="spacingAndGlyphs" transform="rotate(-90 367.2 516.1)" >Survival rate(%)</text>
<text x="389.4" y="561.3" font-size="9.6" fill="#2a2a2a" stroke="#2a2a2a" stroke-width="0.2" textLength="123" lengthAdjust="spacingAndGlyphs" >Time post transplantation(days)</text>
<polyline points="391.70,443.35 429.70,443.35 429.70,454.78 434.30,454.78 434.30,466.21 441.60,466.21 441.60,477.64 449.40,477.64 449.40,489.07 460.30,489.07 460.30,500.51 507.00,500.51" fill="none" stroke="#9c1c44" stroke-width="1.3" stroke-linejoin="miter" stroke-linecap="butt"/>
<polyline points="391.70,443.35 507.00,443.35" fill="none" stroke="#2e3b5e" stroke-width="1.3" stroke-linejoin="miter" stroke-linecap="butt"/>
<text x="449.9" y="451.8" font-size="8.0" fill="#40598c" stroke="#40598c" stroke-width="0.2" textLength="44.4" lengthAdjust="spacingAndGlyphs" >AF9+Ri125b,</text>
<text x="449.9" y="461.0" font-size="8.0" fill="#40598c" stroke="#40598c" stroke-width="0.2" textLength="51.9" lengthAdjust="spacingAndGlyphs" >Dox withdrawal</text>
<text x="449.9" y="470.1" font-size="8.0" fill="#40598c" stroke="#40598c" stroke-width="0.2" textLength="18.5" lengthAdjust="spacingAndGlyphs" >(n=7)</text>
<text x="446.5" y="510.8" font-size="8.0" fill="#9a2c52" stroke="#9a2c52" stroke-width="0.2" textLength="44.5" lengthAdjust="spacingAndGlyphs" >AF9+Ri125b,</text>
<text x="446.5" y="520.1" font-size="8.0" fill="#9a2c52" stroke="#9a2c52" stroke-width="0.2" textLength="46" lengthAdjust="spacingAndGlyphs" >Dox continual</text>
<text x="446.5" y="529.5" font-size="8.0" fill="#9a2c52" stroke="#9a2c52" stroke-width="0.2" textLength="18.5" lengthAdjust="spacingAndGlyphs" >(n=8)</text>
<text x="469.4" y="488.2" font-size="8.1" font-weight="bold" fill="#111" stroke="#111" stroke-width="0.12" textLength="28.5" lengthAdjust="spacingAndGlyphs" >P&lt;0.005</text><rect x="0.5" y="0.5" width="519" height="571" fill="none" stroke="#000" stroke-width="1.35"/></svg></body></html>
